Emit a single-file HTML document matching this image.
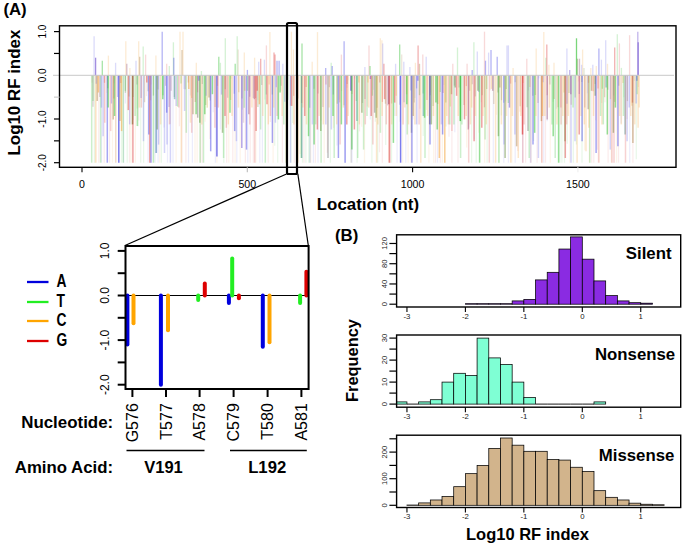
<!DOCTYPE html>
<html><head><meta charset="utf-8"><style>
html,body{margin:0;padding:0;background:#fff;}
svg{display:block;font-family:"Liberation Sans", sans-serif;}
</style></head><body>
<svg width="685" height="547" viewBox="0 0 685 547">
<text x="3.4" y="15.4" font-size="16.8" font-weight="bold" text-anchor="start">(A)</text>
<line x1="92.0" y1="75.3" x2="92.0" y2="82.8" stroke="#e04848" stroke-width="1.2" opacity="0.1"/>
<line x1="94.4" y1="75.3" x2="94.4" y2="162.7" stroke="#30c030" stroke-width="1.2" opacity="0.1"/>
<line x1="96.1" y1="75.3" x2="96.1" y2="162.7" stroke="#f5a030" stroke-width="1.2" opacity="0.1"/>
<line x1="98.8" y1="75.3" x2="98.8" y2="162.7" stroke="#e04848" stroke-width="1.2" opacity="0.1"/>
<line x1="101.5" y1="75.3" x2="101.5" y2="162.7" stroke="#5050e8" stroke-width="1.2" opacity="0.1"/>
<line x1="104.2" y1="75.3" x2="104.2" y2="162.7" stroke="#e04848" stroke-width="1.2" opacity="0.1"/>
<line x1="106.8" y1="75.3" x2="106.8" y2="93.0" stroke="#f5a030" stroke-width="1.2" opacity="0.1"/>
<line x1="109.6" y1="75.3" x2="109.6" y2="162.7" stroke="#e04848" stroke-width="1.2" opacity="0.1"/>
<line x1="112.5" y1="75.3" x2="112.5" y2="162.7" stroke="#f5a030" stroke-width="1.2" opacity="0.1"/>
<line x1="114.1" y1="75.3" x2="114.1" y2="83.3" stroke="#5050e8" stroke-width="1.2" opacity="0.1"/>
<line x1="115.8" y1="75.3" x2="115.8" y2="162.7" stroke="#5050e8" stroke-width="1.2" opacity="0.1"/>
<line x1="119.1" y1="75.3" x2="119.1" y2="76.3" stroke="#5050e8" stroke-width="1.2" opacity="0.1"/>
<line x1="121.5" y1="75.3" x2="121.5" y2="162.7" stroke="#30c030" stroke-width="1.2" opacity="0.1"/>
<line x1="123.6" y1="75.3" x2="123.6" y2="162.7" stroke="#5050e8" stroke-width="1.2" opacity="0.1"/>
<line x1="125.4" y1="75.3" x2="125.4" y2="103.4" stroke="#5050e8" stroke-width="1.2" opacity="0.1"/>
<line x1="127.2" y1="75.3" x2="127.2" y2="162.7" stroke="#30c030" stroke-width="1.2" opacity="0.1"/>
<line x1="129.5" y1="75.3" x2="129.5" y2="162.7" stroke="#e04848" stroke-width="1.2" opacity="0.1"/>
<line x1="131.0" y1="75.3" x2="131.0" y2="162.7" stroke="#f5a030" stroke-width="1.2" opacity="0.1"/>
<line x1="133.3" y1="75.3" x2="133.3" y2="120.1" stroke="#5050e8" stroke-width="1.2" opacity="0.1"/>
<line x1="135.4" y1="75.3" x2="135.4" y2="162.7" stroke="#f5a030" stroke-width="1.2" opacity="0.1"/>
<line x1="137.0" y1="75.3" x2="137.0" y2="108.4" stroke="#30c030" stroke-width="1.2" opacity="0.1"/>
<line x1="138.8" y1="75.3" x2="138.8" y2="120.6" stroke="#e04848" stroke-width="1.2" opacity="0.1"/>
<line x1="140.7" y1="75.3" x2="140.7" y2="162.7" stroke="#30c030" stroke-width="1.2" opacity="0.1"/>
<line x1="143.6" y1="75.3" x2="143.6" y2="162.7" stroke="#30c030" stroke-width="1.2" opacity="0.1"/>
<line x1="146.5" y1="75.3" x2="146.5" y2="96.1" stroke="#e04848" stroke-width="1.2" opacity="0.1"/>
<line x1="148.1" y1="75.3" x2="148.1" y2="162.7" stroke="#5050e8" stroke-width="1.2" opacity="0.1"/>
<line x1="151.1" y1="75.3" x2="151.1" y2="84.5" stroke="#e04848" stroke-width="1.2" opacity="0.1"/>
<line x1="153.1" y1="75.3" x2="153.1" y2="162.7" stroke="#30c030" stroke-width="1.2" opacity="0.1"/>
<line x1="155.1" y1="75.3" x2="155.1" y2="162.7" stroke="#5050e8" stroke-width="1.2" opacity="0.1"/>
<line x1="158.1" y1="75.3" x2="158.1" y2="162.7" stroke="#5050e8" stroke-width="1.2" opacity="0.1"/>
<line x1="159.7" y1="75.3" x2="159.7" y2="162.7" stroke="#f5a030" stroke-width="1.2" opacity="0.1"/>
<line x1="161.4" y1="75.3" x2="161.4" y2="162.7" stroke="#30c030" stroke-width="1.2" opacity="0.1"/>
<line x1="164.0" y1="75.3" x2="164.0" y2="127.4" stroke="#5050e8" stroke-width="1.2" opacity="0.1"/>
<line x1="167.5" y1="75.3" x2="167.5" y2="162.7" stroke="#5050e8" stroke-width="1.2" opacity="0.1"/>
<line x1="170.4" y1="75.3" x2="170.4" y2="123.9" stroke="#f5a030" stroke-width="1.2" opacity="0.1"/>
<line x1="173.0" y1="75.3" x2="173.0" y2="162.7" stroke="#5050e8" stroke-width="1.2" opacity="0.1"/>
<line x1="176.1" y1="75.3" x2="176.1" y2="162.7" stroke="#f5a030" stroke-width="1.2" opacity="0.1"/>
<line x1="179.4" y1="75.3" x2="179.4" y2="126.2" stroke="#e04848" stroke-width="1.2" opacity="0.1"/>
<line x1="182.0" y1="75.3" x2="182.0" y2="162.7" stroke="#e04848" stroke-width="1.2" opacity="0.1"/>
<line x1="183.7" y1="75.3" x2="183.7" y2="88.9" stroke="#5050e8" stroke-width="1.2" opacity="0.1"/>
<line x1="185.9" y1="75.3" x2="185.9" y2="162.7" stroke="#e04848" stroke-width="1.2" opacity="0.1"/>
<line x1="188.5" y1="75.3" x2="188.5" y2="162.7" stroke="#5050e8" stroke-width="1.2" opacity="0.1"/>
<line x1="190.4" y1="75.3" x2="190.4" y2="95.5" stroke="#5050e8" stroke-width="1.2" opacity="0.1"/>
<line x1="192.4" y1="75.3" x2="192.4" y2="162.7" stroke="#5050e8" stroke-width="1.2" opacity="0.1"/>
<line x1="195.0" y1="75.3" x2="195.0" y2="162.7" stroke="#f5a030" stroke-width="1.2" opacity="0.1"/>
<line x1="197.1" y1="75.3" x2="197.1" y2="162.7" stroke="#f5a030" stroke-width="1.2" opacity="0.1"/>
<line x1="200.4" y1="75.3" x2="200.4" y2="162.7" stroke="#e04848" stroke-width="1.2" opacity="0.1"/>
<line x1="202.2" y1="75.3" x2="202.2" y2="162.7" stroke="#e04848" stroke-width="1.2" opacity="0.1"/>
<line x1="205.1" y1="75.3" x2="205.1" y2="121.8" stroke="#f5a030" stroke-width="1.2" opacity="0.1"/>
<line x1="207.1" y1="75.3" x2="207.1" y2="107.7" stroke="#30c030" stroke-width="1.2" opacity="0.1"/>
<line x1="210.0" y1="75.3" x2="210.0" y2="138.9" stroke="#e04848" stroke-width="1.2" opacity="0.1"/>
<line x1="213.2" y1="75.3" x2="213.2" y2="112.3" stroke="#5050e8" stroke-width="1.2" opacity="0.1"/>
<line x1="215.4" y1="75.3" x2="215.4" y2="162.7" stroke="#5050e8" stroke-width="1.2" opacity="0.1"/>
<line x1="216.9" y1="75.3" x2="216.9" y2="162.7" stroke="#f5a030" stroke-width="1.2" opacity="0.1"/>
<line x1="220.4" y1="75.3" x2="220.4" y2="129.5" stroke="#5050e8" stroke-width="1.2" opacity="0.1"/>
<line x1="223.8" y1="75.3" x2="223.8" y2="162.7" stroke="#30c030" stroke-width="1.2" opacity="0.1"/>
<line x1="226.7" y1="75.3" x2="226.7" y2="162.7" stroke="#e04848" stroke-width="1.2" opacity="0.1"/>
<line x1="228.8" y1="75.3" x2="228.8" y2="162.7" stroke="#f5a030" stroke-width="1.2" opacity="0.1"/>
<line x1="231.0" y1="75.3" x2="231.0" y2="78.8" stroke="#30c030" stroke-width="1.2" opacity="0.1"/>
<line x1="232.8" y1="75.3" x2="232.8" y2="162.7" stroke="#e04848" stroke-width="1.2" opacity="0.1"/>
<line x1="235.1" y1="75.3" x2="235.1" y2="162.7" stroke="#f5a030" stroke-width="1.2" opacity="0.1"/>
<line x1="236.8" y1="75.3" x2="236.8" y2="162.7" stroke="#5050e8" stroke-width="1.2" opacity="0.1"/>
<line x1="240.2" y1="75.3" x2="240.2" y2="162.7" stroke="#f5a030" stroke-width="1.2" opacity="0.1"/>
<line x1="242.4" y1="75.3" x2="242.4" y2="109.8" stroke="#5050e8" stroke-width="1.2" opacity="0.1"/>
<line x1="245.4" y1="75.3" x2="245.4" y2="162.7" stroke="#e04848" stroke-width="1.2" opacity="0.1"/>
<line x1="247.8" y1="75.3" x2="247.8" y2="162.7" stroke="#5050e8" stroke-width="1.2" opacity="0.1"/>
<line x1="250.2" y1="75.3" x2="250.2" y2="162.7" stroke="#e04848" stroke-width="1.2" opacity="0.1"/>
<line x1="253.3" y1="75.3" x2="253.3" y2="162.7" stroke="#e04848" stroke-width="1.2" opacity="0.1"/>
<line x1="255.8" y1="75.3" x2="255.8" y2="162.7" stroke="#f5a030" stroke-width="1.2" opacity="0.1"/>
<line x1="257.9" y1="75.3" x2="257.9" y2="100.2" stroke="#30c030" stroke-width="1.2" opacity="0.1"/>
<line x1="259.8" y1="75.3" x2="259.8" y2="162.7" stroke="#5050e8" stroke-width="1.2" opacity="0.1"/>
<line x1="262.4" y1="75.3" x2="262.4" y2="162.7" stroke="#5050e8" stroke-width="1.2" opacity="0.1"/>
<line x1="264.9" y1="75.3" x2="264.9" y2="99.5" stroke="#30c030" stroke-width="1.2" opacity="0.1"/>
<line x1="268.2" y1="75.3" x2="268.2" y2="162.7" stroke="#e04848" stroke-width="1.2" opacity="0.1"/>
<line x1="270.4" y1="75.3" x2="270.4" y2="122.0" stroke="#e04848" stroke-width="1.2" opacity="0.1"/>
<line x1="273.1" y1="75.3" x2="273.1" y2="162.7" stroke="#f5a030" stroke-width="1.2" opacity="0.1"/>
<line x1="274.7" y1="75.3" x2="274.7" y2="145.8" stroke="#30c030" stroke-width="1.2" opacity="0.1"/>
<line x1="277.7" y1="75.3" x2="277.7" y2="162.7" stroke="#30c030" stroke-width="1.2" opacity="0.1"/>
<line x1="280.9" y1="75.3" x2="280.9" y2="91.0" stroke="#f5a030" stroke-width="1.2" opacity="0.1"/>
<line x1="282.4" y1="75.3" x2="282.4" y2="162.7" stroke="#e04848" stroke-width="1.2" opacity="0.1"/>
<line x1="285.6" y1="75.3" x2="285.6" y2="162.7" stroke="#30c030" stroke-width="1.2" opacity="0.1"/>
<line x1="287.6" y1="75.3" x2="287.6" y2="95.6" stroke="#f5a030" stroke-width="1.2" opacity="0.1"/>
<line x1="290.9" y1="75.3" x2="290.9" y2="162.7" stroke="#30c030" stroke-width="1.2" opacity="0.1"/>
<line x1="292.6" y1="75.3" x2="292.6" y2="123.1" stroke="#30c030" stroke-width="1.2" opacity="0.1"/>
<line x1="294.3" y1="75.3" x2="294.3" y2="162.7" stroke="#e04848" stroke-width="1.2" opacity="0.1"/>
<line x1="296.6" y1="75.3" x2="296.6" y2="155.6" stroke="#5050e8" stroke-width="1.2" opacity="0.1"/>
<line x1="300.0" y1="75.3" x2="300.0" y2="154.1" stroke="#f5a030" stroke-width="1.2" opacity="0.1"/>
<line x1="302.5" y1="75.3" x2="302.5" y2="162.7" stroke="#30c030" stroke-width="1.2" opacity="0.1"/>
<line x1="304.0" y1="75.3" x2="304.0" y2="162.7" stroke="#e04848" stroke-width="1.2" opacity="0.1"/>
<line x1="305.9" y1="75.3" x2="305.9" y2="162.7" stroke="#30c030" stroke-width="1.2" opacity="0.1"/>
<line x1="308.6" y1="75.3" x2="308.6" y2="162.7" stroke="#30c030" stroke-width="1.2" opacity="0.1"/>
<line x1="310.7" y1="75.3" x2="310.7" y2="162.7" stroke="#e04848" stroke-width="1.2" opacity="0.1"/>
<line x1="313.4" y1="75.3" x2="313.4" y2="162.7" stroke="#5050e8" stroke-width="1.2" opacity="0.1"/>
<line x1="315.3" y1="75.3" x2="315.3" y2="162.7" stroke="#e04848" stroke-width="1.2" opacity="0.1"/>
<line x1="318.0" y1="75.3" x2="318.0" y2="162.7" stroke="#5050e8" stroke-width="1.2" opacity="0.1"/>
<line x1="321.1" y1="75.3" x2="321.1" y2="120.4" stroke="#e04848" stroke-width="1.2" opacity="0.1"/>
<line x1="324.2" y1="75.3" x2="324.2" y2="162.7" stroke="#f5a030" stroke-width="1.2" opacity="0.1"/>
<line x1="327.3" y1="75.3" x2="327.3" y2="152.8" stroke="#e04848" stroke-width="1.2" opacity="0.1"/>
<line x1="330.4" y1="75.3" x2="330.4" y2="162.7" stroke="#30c030" stroke-width="1.2" opacity="0.1"/>
<line x1="333.5" y1="75.3" x2="333.5" y2="127.9" stroke="#f5a030" stroke-width="1.2" opacity="0.1"/>
<line x1="336.9" y1="75.3" x2="336.9" y2="145.5" stroke="#5050e8" stroke-width="1.2" opacity="0.1"/>
<line x1="339.1" y1="75.3" x2="339.1" y2="99.8" stroke="#e04848" stroke-width="1.2" opacity="0.1"/>
<line x1="341.6" y1="75.3" x2="341.6" y2="91.0" stroke="#e04848" stroke-width="1.2" opacity="0.1"/>
<line x1="345.1" y1="75.3" x2="345.1" y2="162.7" stroke="#5050e8" stroke-width="1.2" opacity="0.1"/>
<line x1="347.1" y1="75.3" x2="347.1" y2="87.8" stroke="#e04848" stroke-width="1.2" opacity="0.1"/>
<line x1="348.6" y1="75.3" x2="348.6" y2="80.2" stroke="#f5a030" stroke-width="1.2" opacity="0.1"/>
<line x1="352.1" y1="75.3" x2="352.1" y2="162.7" stroke="#5050e8" stroke-width="1.2" opacity="0.1"/>
<line x1="354.7" y1="75.3" x2="354.7" y2="78.5" stroke="#5050e8" stroke-width="1.2" opacity="0.1"/>
<line x1="357.1" y1="75.3" x2="357.1" y2="162.7" stroke="#30c030" stroke-width="1.2" opacity="0.1"/>
<line x1="359.5" y1="75.3" x2="359.5" y2="131.4" stroke="#e04848" stroke-width="1.2" opacity="0.1"/>
<line x1="361.7" y1="75.3" x2="361.7" y2="126.8" stroke="#f5a030" stroke-width="1.2" opacity="0.1"/>
<line x1="364.5" y1="75.3" x2="364.5" y2="162.7" stroke="#f5a030" stroke-width="1.2" opacity="0.1"/>
<line x1="367.3" y1="75.3" x2="367.3" y2="106.6" stroke="#e04848" stroke-width="1.2" opacity="0.1"/>
<line x1="370.3" y1="75.3" x2="370.3" y2="119.5" stroke="#5050e8" stroke-width="1.2" opacity="0.1"/>
<line x1="371.9" y1="75.3" x2="371.9" y2="162.7" stroke="#30c030" stroke-width="1.2" opacity="0.1"/>
<line x1="373.5" y1="75.3" x2="373.5" y2="89.8" stroke="#5050e8" stroke-width="1.2" opacity="0.1"/>
<line x1="375.3" y1="75.3" x2="375.3" y2="121.7" stroke="#30c030" stroke-width="1.2" opacity="0.1"/>
<line x1="377.7" y1="75.3" x2="377.7" y2="162.7" stroke="#30c030" stroke-width="1.2" opacity="0.1"/>
<line x1="379.5" y1="75.3" x2="379.5" y2="152.3" stroke="#e04848" stroke-width="1.2" opacity="0.1"/>
<line x1="382.3" y1="75.3" x2="382.3" y2="162.7" stroke="#e04848" stroke-width="1.2" opacity="0.1"/>
<line x1="385.7" y1="75.3" x2="385.7" y2="145.0" stroke="#30c030" stroke-width="1.2" opacity="0.1"/>
<line x1="388.7" y1="75.3" x2="388.7" y2="162.7" stroke="#f5a030" stroke-width="1.2" opacity="0.1"/>
<line x1="391.5" y1="75.3" x2="391.5" y2="162.7" stroke="#30c030" stroke-width="1.2" opacity="0.1"/>
<line x1="394.8" y1="75.3" x2="394.8" y2="116.0" stroke="#5050e8" stroke-width="1.2" opacity="0.1"/>
<line x1="397.1" y1="75.3" x2="397.1" y2="162.7" stroke="#5050e8" stroke-width="1.2" opacity="0.1"/>
<line x1="400.1" y1="75.3" x2="400.1" y2="121.8" stroke="#30c030" stroke-width="1.2" opacity="0.1"/>
<line x1="402.6" y1="75.3" x2="402.6" y2="162.7" stroke="#f5a030" stroke-width="1.2" opacity="0.1"/>
<line x1="405.8" y1="75.3" x2="405.8" y2="162.7" stroke="#5050e8" stroke-width="1.2" opacity="0.1"/>
<line x1="408.1" y1="75.3" x2="408.1" y2="162.7" stroke="#f5a030" stroke-width="1.2" opacity="0.1"/>
<line x1="411.0" y1="75.3" x2="411.0" y2="162.7" stroke="#f5a030" stroke-width="1.2" opacity="0.1"/>
<line x1="413.3" y1="75.3" x2="413.3" y2="119.6" stroke="#f5a030" stroke-width="1.2" opacity="0.1"/>
<line x1="415.0" y1="75.3" x2="415.0" y2="98.0" stroke="#5050e8" stroke-width="1.2" opacity="0.1"/>
<line x1="417.1" y1="75.3" x2="417.1" y2="162.7" stroke="#5050e8" stroke-width="1.2" opacity="0.1"/>
<line x1="420.0" y1="75.3" x2="420.0" y2="108.8" stroke="#e04848" stroke-width="1.2" opacity="0.1"/>
<line x1="423.2" y1="75.3" x2="423.2" y2="136.1" stroke="#30c030" stroke-width="1.2" opacity="0.1"/>
<line x1="426.5" y1="75.3" x2="426.5" y2="110.0" stroke="#f5a030" stroke-width="1.2" opacity="0.1"/>
<line x1="428.9" y1="75.3" x2="428.9" y2="162.7" stroke="#f5a030" stroke-width="1.2" opacity="0.1"/>
<line x1="430.6" y1="75.3" x2="430.6" y2="92.2" stroke="#f5a030" stroke-width="1.2" opacity="0.1"/>
<line x1="433.7" y1="75.3" x2="433.7" y2="162.7" stroke="#f5a030" stroke-width="1.2" opacity="0.1"/>
<line x1="435.5" y1="75.3" x2="435.5" y2="162.7" stroke="#e04848" stroke-width="1.2" opacity="0.1"/>
<line x1="437.5" y1="75.3" x2="437.5" y2="162.7" stroke="#5050e8" stroke-width="1.2" opacity="0.1"/>
<line x1="440.3" y1="75.3" x2="440.3" y2="162.7" stroke="#e04848" stroke-width="1.2" opacity="0.1"/>
<line x1="442.4" y1="75.3" x2="442.4" y2="162.7" stroke="#f5a030" stroke-width="1.2" opacity="0.1"/>
<line x1="444.0" y1="75.3" x2="444.0" y2="84.9" stroke="#30c030" stroke-width="1.2" opacity="0.1"/>
<line x1="446.0" y1="75.3" x2="446.0" y2="126.4" stroke="#30c030" stroke-width="1.2" opacity="0.1"/>
<line x1="449.0" y1="75.3" x2="449.0" y2="136.7" stroke="#e04848" stroke-width="1.2" opacity="0.1"/>
<line x1="451.9" y1="75.3" x2="451.9" y2="162.7" stroke="#e04848" stroke-width="1.2" opacity="0.1"/>
<line x1="454.8" y1="75.3" x2="454.8" y2="132.2" stroke="#5050e8" stroke-width="1.2" opacity="0.1"/>
<line x1="458.0" y1="75.3" x2="458.0" y2="162.7" stroke="#e04848" stroke-width="1.2" opacity="0.1"/>
<line x1="460.5" y1="75.3" x2="460.5" y2="105.6" stroke="#5050e8" stroke-width="1.2" opacity="0.1"/>
<line x1="463.9" y1="75.3" x2="463.9" y2="75.8" stroke="#30c030" stroke-width="1.2" opacity="0.1"/>
<line x1="466.7" y1="75.3" x2="466.7" y2="147.5" stroke="#f5a030" stroke-width="1.2" opacity="0.1"/>
<line x1="468.8" y1="75.3" x2="468.8" y2="127.7" stroke="#5050e8" stroke-width="1.2" opacity="0.1"/>
<line x1="471.6" y1="75.3" x2="471.6" y2="162.7" stroke="#30c030" stroke-width="1.2" opacity="0.1"/>
<line x1="474.2" y1="75.3" x2="474.2" y2="139.5" stroke="#5050e8" stroke-width="1.2" opacity="0.1"/>
<line x1="476.2" y1="75.3" x2="476.2" y2="162.7" stroke="#30c030" stroke-width="1.2" opacity="0.1"/>
<line x1="478.6" y1="75.3" x2="478.6" y2="132.8" stroke="#f5a030" stroke-width="1.2" opacity="0.1"/>
<line x1="481.3" y1="75.3" x2="481.3" y2="102.3" stroke="#e04848" stroke-width="1.2" opacity="0.1"/>
<line x1="484.6" y1="75.3" x2="484.6" y2="162.7" stroke="#f5a030" stroke-width="1.2" opacity="0.1"/>
<line x1="487.1" y1="75.3" x2="487.1" y2="162.7" stroke="#30c030" stroke-width="1.2" opacity="0.1"/>
<line x1="490.2" y1="75.3" x2="490.2" y2="90.2" stroke="#e04848" stroke-width="1.2" opacity="0.1"/>
<line x1="493.3" y1="75.3" x2="493.3" y2="162.7" stroke="#5050e8" stroke-width="1.2" opacity="0.1"/>
<line x1="496.5" y1="75.3" x2="496.5" y2="114.8" stroke="#f5a030" stroke-width="1.2" opacity="0.1"/>
<line x1="499.2" y1="75.3" x2="499.2" y2="162.7" stroke="#30c030" stroke-width="1.2" opacity="0.1"/>
<line x1="501.3" y1="75.3" x2="501.3" y2="115.4" stroke="#30c030" stroke-width="1.2" opacity="0.1"/>
<line x1="503.8" y1="75.3" x2="503.8" y2="162.7" stroke="#5050e8" stroke-width="1.2" opacity="0.1"/>
<line x1="505.7" y1="75.3" x2="505.7" y2="101.6" stroke="#30c030" stroke-width="1.2" opacity="0.1"/>
<line x1="508.4" y1="75.3" x2="508.4" y2="162.7" stroke="#5050e8" stroke-width="1.2" opacity="0.1"/>
<line x1="511.8" y1="75.3" x2="511.8" y2="162.7" stroke="#f5a030" stroke-width="1.2" opacity="0.1"/>
<line x1="515.2" y1="75.3" x2="515.2" y2="162.7" stroke="#5050e8" stroke-width="1.2" opacity="0.1"/>
<line x1="517.8" y1="75.3" x2="517.8" y2="151.0" stroke="#e04848" stroke-width="1.2" opacity="0.1"/>
<line x1="519.9" y1="75.3" x2="519.9" y2="111.7" stroke="#e04848" stroke-width="1.2" opacity="0.1"/>
<line x1="522.7" y1="75.3" x2="522.7" y2="162.7" stroke="#5050e8" stroke-width="1.2" opacity="0.1"/>
<line x1="525.6" y1="75.3" x2="525.6" y2="162.7" stroke="#e04848" stroke-width="1.2" opacity="0.1"/>
<line x1="528.4" y1="75.3" x2="528.4" y2="90.4" stroke="#5050e8" stroke-width="1.2" opacity="0.1"/>
<line x1="530.3" y1="75.3" x2="530.3" y2="162.7" stroke="#5050e8" stroke-width="1.2" opacity="0.1"/>
<line x1="533.6" y1="75.3" x2="533.6" y2="141.1" stroke="#30c030" stroke-width="1.2" opacity="0.1"/>
<line x1="537.1" y1="75.3" x2="537.1" y2="162.7" stroke="#e04848" stroke-width="1.2" opacity="0.1"/>
<line x1="539.0" y1="75.3" x2="539.0" y2="78.2" stroke="#5050e8" stroke-width="1.2" opacity="0.1"/>
<line x1="541.9" y1="75.3" x2="541.9" y2="162.7" stroke="#f5a030" stroke-width="1.2" opacity="0.1"/>
<line x1="543.7" y1="75.3" x2="543.7" y2="162.7" stroke="#5050e8" stroke-width="1.2" opacity="0.1"/>
<line x1="545.5" y1="75.3" x2="545.5" y2="162.7" stroke="#e04848" stroke-width="1.2" opacity="0.1"/>
<line x1="547.2" y1="75.3" x2="547.2" y2="121.2" stroke="#5050e8" stroke-width="1.2" opacity="0.1"/>
<line x1="550.3" y1="75.3" x2="550.3" y2="162.7" stroke="#f5a030" stroke-width="1.2" opacity="0.1"/>
<line x1="553.1" y1="75.3" x2="553.1" y2="101.7" stroke="#30c030" stroke-width="1.2" opacity="0.1"/>
<line x1="556.4" y1="75.3" x2="556.4" y2="108.7" stroke="#5050e8" stroke-width="1.2" opacity="0.1"/>
<line x1="559.9" y1="75.3" x2="559.9" y2="162.7" stroke="#30c030" stroke-width="1.2" opacity="0.1"/>
<line x1="561.9" y1="75.3" x2="561.9" y2="162.7" stroke="#30c030" stroke-width="1.2" opacity="0.1"/>
<line x1="564.5" y1="75.3" x2="564.5" y2="162.7" stroke="#30c030" stroke-width="1.2" opacity="0.1"/>
<line x1="567.2" y1="75.3" x2="567.2" y2="143.8" stroke="#30c030" stroke-width="1.2" opacity="0.1"/>
<line x1="569.8" y1="75.3" x2="569.8" y2="162.7" stroke="#f5a030" stroke-width="1.2" opacity="0.1"/>
<line x1="573.3" y1="75.3" x2="573.3" y2="162.7" stroke="#30c030" stroke-width="1.2" opacity="0.1"/>
<line x1="576.4" y1="75.3" x2="576.4" y2="144.5" stroke="#30c030" stroke-width="1.2" opacity="0.1"/>
<line x1="578.5" y1="75.3" x2="578.5" y2="81.4" stroke="#f5a030" stroke-width="1.2" opacity="0.1"/>
<line x1="582.0" y1="75.3" x2="582.0" y2="162.7" stroke="#30c030" stroke-width="1.2" opacity="0.1"/>
<line x1="584.6" y1="75.3" x2="584.6" y2="150.2" stroke="#f5a030" stroke-width="1.2" opacity="0.1"/>
<line x1="587.3" y1="75.3" x2="587.3" y2="93.3" stroke="#5050e8" stroke-width="1.2" opacity="0.1"/>
<line x1="589.3" y1="75.3" x2="589.3" y2="162.7" stroke="#f5a030" stroke-width="1.2" opacity="0.1"/>
<line x1="591.7" y1="75.3" x2="591.7" y2="162.7" stroke="#e04848" stroke-width="1.2" opacity="0.1"/>
<line x1="593.8" y1="75.3" x2="593.8" y2="162.7" stroke="#e04848" stroke-width="1.2" opacity="0.1"/>
<line x1="595.6" y1="75.3" x2="595.6" y2="120.2" stroke="#e04848" stroke-width="1.2" opacity="0.1"/>
<line x1="597.4" y1="75.3" x2="597.4" y2="149.8" stroke="#e04848" stroke-width="1.2" opacity="0.1"/>
<line x1="599.3" y1="75.3" x2="599.3" y2="162.7" stroke="#f5a030" stroke-width="1.2" opacity="0.1"/>
<line x1="601.7" y1="75.3" x2="601.7" y2="103.1" stroke="#e04848" stroke-width="1.2" opacity="0.1"/>
<line x1="604.9" y1="75.3" x2="604.9" y2="102.3" stroke="#e04848" stroke-width="1.2" opacity="0.1"/>
<line x1="608.1" y1="75.3" x2="608.1" y2="162.7" stroke="#e04848" stroke-width="1.2" opacity="0.1"/>
<line x1="611.4" y1="75.3" x2="611.4" y2="162.7" stroke="#f5a030" stroke-width="1.2" opacity="0.1"/>
<line x1="613.6" y1="75.3" x2="613.6" y2="95.4" stroke="#5050e8" stroke-width="1.2" opacity="0.1"/>
<line x1="616.5" y1="75.3" x2="616.5" y2="162.7" stroke="#f5a030" stroke-width="1.2" opacity="0.1"/>
<line x1="618.5" y1="75.3" x2="618.5" y2="162.7" stroke="#e04848" stroke-width="1.2" opacity="0.1"/>
<line x1="621.0" y1="75.3" x2="621.0" y2="123.6" stroke="#5050e8" stroke-width="1.2" opacity="0.1"/>
<line x1="623.8" y1="75.3" x2="623.8" y2="97.3" stroke="#30c030" stroke-width="1.2" opacity="0.1"/>
<line x1="627.0" y1="75.3" x2="627.0" y2="119.1" stroke="#e04848" stroke-width="1.2" opacity="0.1"/>
<line x1="629.7" y1="75.3" x2="629.7" y2="162.7" stroke="#5050e8" stroke-width="1.2" opacity="0.1"/>
<line x1="632.9" y1="75.3" x2="632.9" y2="162.7" stroke="#e04848" stroke-width="1.2" opacity="0.1"/>
<line x1="634.5" y1="75.3" x2="634.5" y2="80.8" stroke="#30c030" stroke-width="1.2" opacity="0.1"/>
<line x1="636.3" y1="75.3" x2="636.3" y2="159.3" stroke="#30c030" stroke-width="1.2" opacity="0.1"/>
<line x1="638.4" y1="75.3" x2="638.4" y2="87.0" stroke="#e04848" stroke-width="1.2" opacity="0.1"/>
<line x1="93.0" y1="75.3" x2="93.0" y2="106.7" stroke="#a06488" stroke-width="1.3" opacity="0.3"/>
<line x1="96.2" y1="75.3" x2="96.2" y2="83.8" stroke="#5050e8" stroke-width="1.3" opacity="0.3"/>
<line x1="99.8" y1="75.3" x2="99.8" y2="97.1" stroke="#a06488" stroke-width="1.3" opacity="0.3"/>
<line x1="104.5" y1="75.3" x2="104.5" y2="82.8" stroke="#e04848" stroke-width="1.3" opacity="0.3"/>
<line x1="107.8" y1="75.3" x2="107.8" y2="88.2" stroke="#30c030" stroke-width="1.3" opacity="0.3"/>
<line x1="111.5" y1="75.3" x2="111.5" y2="103.5" stroke="#5050e8" stroke-width="1.3" opacity="0.3"/>
<line x1="113.8" y1="75.3" x2="113.8" y2="98.4" stroke="#e04848" stroke-width="1.3" opacity="0.3"/>
<line x1="117.6" y1="75.3" x2="117.6" y2="97.0" stroke="#5050e8" stroke-width="1.3" opacity="0.3"/>
<line x1="120.8" y1="75.3" x2="120.8" y2="83.1" stroke="#e04848" stroke-width="1.3" opacity="0.3"/>
<line x1="125.4" y1="75.3" x2="125.4" y2="92.8" stroke="#6a9040" stroke-width="1.3" opacity="0.3"/>
<line x1="129.0" y1="75.3" x2="129.0" y2="96.5" stroke="#6a9040" stroke-width="1.3" opacity="0.3"/>
<line x1="133.0" y1="75.3" x2="133.0" y2="97.1" stroke="#30c030" stroke-width="1.3" opacity="0.3"/>
<line x1="136.9" y1="75.3" x2="136.9" y2="84.4" stroke="#a06488" stroke-width="1.3" opacity="0.3"/>
<line x1="141.1" y1="75.3" x2="141.1" y2="98.1" stroke="#5050e8" stroke-width="1.3" opacity="0.3"/>
<line x1="144.6" y1="75.3" x2="144.6" y2="102.2" stroke="#b08850" stroke-width="1.3" opacity="0.3"/>
<line x1="148.0" y1="75.3" x2="148.0" y2="91.3" stroke="#808080" stroke-width="1.3" opacity="0.3"/>
<line x1="150.7" y1="75.3" x2="150.7" y2="100.2" stroke="#f5a030" stroke-width="1.3" opacity="0.3"/>
<line x1="153.4" y1="75.3" x2="153.4" y2="95.6" stroke="#6a9040" stroke-width="1.3" opacity="0.3"/>
<line x1="158.1" y1="75.3" x2="158.1" y2="89.4" stroke="#808080" stroke-width="1.3" opacity="0.3"/>
<line x1="163.0" y1="75.3" x2="163.0" y2="95.3" stroke="#30c030" stroke-width="1.3" opacity="0.3"/>
<line x1="165.5" y1="75.3" x2="165.5" y2="85.8" stroke="#a06488" stroke-width="1.3" opacity="0.3"/>
<line x1="169.0" y1="75.3" x2="169.0" y2="107.1" stroke="#5050e8" stroke-width="1.3" opacity="0.3"/>
<line x1="171.2" y1="75.3" x2="171.2" y2="90.8" stroke="#a06488" stroke-width="1.3" opacity="0.3"/>
<line x1="174.3" y1="75.3" x2="174.3" y2="97.1" stroke="#808080" stroke-width="1.3" opacity="0.3"/>
<line x1="177.6" y1="75.3" x2="177.6" y2="106.6" stroke="#30c030" stroke-width="1.3" opacity="0.3"/>
<line x1="181.0" y1="75.3" x2="181.0" y2="83.4" stroke="#30c030" stroke-width="1.3" opacity="0.3"/>
<line x1="185.2" y1="75.3" x2="185.2" y2="89.3" stroke="#808080" stroke-width="1.3" opacity="0.3"/>
<line x1="188.3" y1="75.3" x2="188.3" y2="82.4" stroke="#a06488" stroke-width="1.3" opacity="0.3"/>
<line x1="191.7" y1="75.3" x2="191.7" y2="97.9" stroke="#f5a030" stroke-width="1.3" opacity="0.3"/>
<line x1="195.2" y1="75.3" x2="195.2" y2="102.0" stroke="#e04848" stroke-width="1.3" opacity="0.3"/>
<line x1="197.6" y1="75.3" x2="197.6" y2="92.3" stroke="#e04848" stroke-width="1.3" opacity="0.3"/>
<line x1="202.3" y1="75.3" x2="202.3" y2="84.0" stroke="#808080" stroke-width="1.3" opacity="0.3"/>
<line x1="205.7" y1="75.3" x2="205.7" y2="105.0" stroke="#6a9040" stroke-width="1.3" opacity="0.3"/>
<line x1="210.1" y1="75.3" x2="210.1" y2="100.4" stroke="#6a9040" stroke-width="1.3" opacity="0.3"/>
<line x1="215.1" y1="75.3" x2="215.1" y2="107.0" stroke="#b08850" stroke-width="1.3" opacity="0.3"/>
<line x1="217.5" y1="75.3" x2="217.5" y2="85.8" stroke="#f5a030" stroke-width="1.3" opacity="0.3"/>
<line x1="221.5" y1="75.3" x2="221.5" y2="94.6" stroke="#5050e8" stroke-width="1.3" opacity="0.3"/>
<line x1="225.3" y1="75.3" x2="225.3" y2="89.2" stroke="#6a9040" stroke-width="1.3" opacity="0.3"/>
<line x1="227.7" y1="75.3" x2="227.7" y2="97.8" stroke="#a06488" stroke-width="1.3" opacity="0.3"/>
<line x1="230.7" y1="75.3" x2="230.7" y2="100.0" stroke="#f5a030" stroke-width="1.3" opacity="0.3"/>
<line x1="234.2" y1="75.3" x2="234.2" y2="93.8" stroke="#5050e8" stroke-width="1.3" opacity="0.3"/>
<line x1="238.8" y1="75.3" x2="238.8" y2="92.3" stroke="#b08850" stroke-width="1.3" opacity="0.3"/>
<line x1="242.0" y1="75.3" x2="242.0" y2="98.5" stroke="#808080" stroke-width="1.3" opacity="0.3"/>
<line x1="244.2" y1="75.3" x2="244.2" y2="107.7" stroke="#30c030" stroke-width="1.3" opacity="0.3"/>
<line x1="247.5" y1="75.3" x2="247.5" y2="90.8" stroke="#30c030" stroke-width="1.3" opacity="0.3"/>
<line x1="249.7" y1="75.3" x2="249.7" y2="96.7" stroke="#5050e8" stroke-width="1.3" opacity="0.3"/>
<line x1="253.3" y1="75.3" x2="253.3" y2="97.9" stroke="#a06488" stroke-width="1.3" opacity="0.3"/>
<line x1="255.5" y1="75.3" x2="255.5" y2="98.0" stroke="#e04848" stroke-width="1.3" opacity="0.3"/>
<line x1="257.9" y1="75.3" x2="257.9" y2="106.9" stroke="#6a9040" stroke-width="1.3" opacity="0.3"/>
<line x1="261.7" y1="75.3" x2="261.7" y2="85.1" stroke="#808080" stroke-width="1.3" opacity="0.3"/>
<line x1="266.3" y1="75.3" x2="266.3" y2="94.5" stroke="#808080" stroke-width="1.3" opacity="0.3"/>
<line x1="269.2" y1="75.3" x2="269.2" y2="84.5" stroke="#f5a030" stroke-width="1.3" opacity="0.3"/>
<line x1="272.3" y1="75.3" x2="272.3" y2="94.4" stroke="#6a9040" stroke-width="1.3" opacity="0.3"/>
<line x1="276.3" y1="75.3" x2="276.3" y2="87.2" stroke="#5050e8" stroke-width="1.3" opacity="0.3"/>
<line x1="281.2" y1="75.3" x2="281.2" y2="85.7" stroke="#a06488" stroke-width="1.3" opacity="0.3"/>
<line x1="284.8" y1="75.3" x2="284.8" y2="101.7" stroke="#5050e8" stroke-width="1.3" opacity="0.3"/>
<line x1="287.7" y1="75.3" x2="287.7" y2="100.1" stroke="#30c030" stroke-width="1.3" opacity="0.3"/>
<line x1="290.5" y1="75.3" x2="290.5" y2="105.7" stroke="#a06488" stroke-width="1.3" opacity="0.3"/>
<line x1="293.6" y1="75.3" x2="293.6" y2="95.8" stroke="#e04848" stroke-width="1.3" opacity="0.3"/>
<line x1="297.9" y1="75.3" x2="297.9" y2="98.5" stroke="#a06488" stroke-width="1.3" opacity="0.3"/>
<line x1="301.7" y1="75.3" x2="301.7" y2="103.0" stroke="#e04848" stroke-width="1.3" opacity="0.3"/>
<line x1="306.2" y1="75.3" x2="306.2" y2="87.1" stroke="#e04848" stroke-width="1.3" opacity="0.3"/>
<line x1="309.7" y1="75.3" x2="309.7" y2="107.8" stroke="#5050e8" stroke-width="1.3" opacity="0.3"/>
<line x1="314.0" y1="75.3" x2="314.0" y2="88.7" stroke="#808080" stroke-width="1.3" opacity="0.3"/>
<line x1="318.1" y1="75.3" x2="318.1" y2="93.6" stroke="#a06488" stroke-width="1.3" opacity="0.3"/>
<line x1="322.9" y1="75.3" x2="322.9" y2="106.9" stroke="#a06488" stroke-width="1.3" opacity="0.3"/>
<line x1="326.0" y1="75.3" x2="326.0" y2="84.5" stroke="#e04848" stroke-width="1.3" opacity="0.3"/>
<line x1="329.4" y1="75.3" x2="329.4" y2="87.2" stroke="#a06488" stroke-width="1.3" opacity="0.3"/>
<line x1="333.3" y1="75.3" x2="333.3" y2="94.4" stroke="#5050e8" stroke-width="1.3" opacity="0.3"/>
<line x1="337.3" y1="75.3" x2="337.3" y2="103.7" stroke="#30c030" stroke-width="1.3" opacity="0.3"/>
<line x1="339.6" y1="75.3" x2="339.6" y2="102.4" stroke="#b08850" stroke-width="1.3" opacity="0.3"/>
<line x1="343.9" y1="75.3" x2="343.9" y2="105.2" stroke="#808080" stroke-width="1.3" opacity="0.3"/>
<line x1="347.2" y1="75.3" x2="347.2" y2="84.1" stroke="#a06488" stroke-width="1.3" opacity="0.3"/>
<line x1="352.0" y1="75.3" x2="352.0" y2="94.0" stroke="#b08850" stroke-width="1.3" opacity="0.3"/>
<line x1="356.3" y1="75.3" x2="356.3" y2="100.9" stroke="#30c030" stroke-width="1.3" opacity="0.3"/>
<line x1="358.8" y1="75.3" x2="358.8" y2="82.6" stroke="#f5a030" stroke-width="1.3" opacity="0.3"/>
<line x1="362.5" y1="75.3" x2="362.5" y2="103.0" stroke="#808080" stroke-width="1.3" opacity="0.3"/>
<line x1="365.0" y1="75.3" x2="365.0" y2="99.1" stroke="#808080" stroke-width="1.3" opacity="0.3"/>
<line x1="368.0" y1="75.3" x2="368.0" y2="82.4" stroke="#f5a030" stroke-width="1.3" opacity="0.3"/>
<line x1="372.4" y1="75.3" x2="372.4" y2="95.7" stroke="#30c030" stroke-width="1.3" opacity="0.3"/>
<line x1="377.2" y1="75.3" x2="377.2" y2="107.7" stroke="#b08850" stroke-width="1.3" opacity="0.3"/>
<line x1="379.8" y1="75.3" x2="379.8" y2="82.6" stroke="#e04848" stroke-width="1.3" opacity="0.3"/>
<line x1="382.4" y1="75.3" x2="382.4" y2="101.9" stroke="#e04848" stroke-width="1.3" opacity="0.3"/>
<line x1="385.4" y1="75.3" x2="385.4" y2="103.7" stroke="#b08850" stroke-width="1.3" opacity="0.3"/>
<line x1="387.6" y1="75.3" x2="387.6" y2="105.4" stroke="#a06488" stroke-width="1.3" opacity="0.3"/>
<line x1="391.6" y1="75.3" x2="391.6" y2="103.5" stroke="#b08850" stroke-width="1.3" opacity="0.3"/>
<line x1="396.2" y1="75.3" x2="396.2" y2="95.8" stroke="#f5a030" stroke-width="1.3" opacity="0.3"/>
<line x1="399.8" y1="75.3" x2="399.8" y2="104.7" stroke="#5050e8" stroke-width="1.3" opacity="0.3"/>
<line x1="404.1" y1="75.3" x2="404.1" y2="102.2" stroke="#5050e8" stroke-width="1.3" opacity="0.3"/>
<line x1="406.6" y1="75.3" x2="406.6" y2="94.3" stroke="#f5a030" stroke-width="1.3" opacity="0.3"/>
<line x1="410.8" y1="75.3" x2="410.8" y2="90.4" stroke="#5050e8" stroke-width="1.3" opacity="0.3"/>
<line x1="414.3" y1="75.3" x2="414.3" y2="102.4" stroke="#808080" stroke-width="1.3" opacity="0.3"/>
<line x1="416.6" y1="75.3" x2="416.6" y2="88.4" stroke="#5050e8" stroke-width="1.3" opacity="0.3"/>
<line x1="419.5" y1="75.3" x2="419.5" y2="95.2" stroke="#30c030" stroke-width="1.3" opacity="0.3"/>
<line x1="423.1" y1="75.3" x2="423.1" y2="93.5" stroke="#30c030" stroke-width="1.3" opacity="0.3"/>
<line x1="427.0" y1="75.3" x2="427.0" y2="100.0" stroke="#e04848" stroke-width="1.3" opacity="0.3"/>
<line x1="430.3" y1="75.3" x2="430.3" y2="95.2" stroke="#808080" stroke-width="1.3" opacity="0.3"/>
<line x1="433.1" y1="75.3" x2="433.1" y2="106.1" stroke="#6a9040" stroke-width="1.3" opacity="0.3"/>
<line x1="437.8" y1="75.3" x2="437.8" y2="103.9" stroke="#e04848" stroke-width="1.3" opacity="0.3"/>
<line x1="440.2" y1="75.3" x2="440.2" y2="92.1" stroke="#30c030" stroke-width="1.3" opacity="0.3"/>
<line x1="443.1" y1="75.3" x2="443.1" y2="93.1" stroke="#e04848" stroke-width="1.3" opacity="0.3"/>
<line x1="445.8" y1="75.3" x2="445.8" y2="102.4" stroke="#6a9040" stroke-width="1.3" opacity="0.3"/>
<line x1="450.4" y1="75.3" x2="450.4" y2="106.5" stroke="#f5a030" stroke-width="1.3" opacity="0.3"/>
<line x1="454.4" y1="75.3" x2="454.4" y2="85.6" stroke="#a06488" stroke-width="1.3" opacity="0.3"/>
<line x1="459.0" y1="75.3" x2="459.0" y2="87.6" stroke="#808080" stroke-width="1.3" opacity="0.3"/>
<line x1="463.9" y1="75.3" x2="463.9" y2="105.1" stroke="#b08850" stroke-width="1.3" opacity="0.3"/>
<line x1="466.4" y1="75.3" x2="466.4" y2="86.1" stroke="#e04848" stroke-width="1.3" opacity="0.3"/>
<line x1="469.7" y1="75.3" x2="469.7" y2="90.7" stroke="#b08850" stroke-width="1.3" opacity="0.3"/>
<line x1="472.3" y1="75.3" x2="472.3" y2="84.3" stroke="#a06488" stroke-width="1.3" opacity="0.3"/>
<line x1="475.4" y1="75.3" x2="475.4" y2="96.4" stroke="#a06488" stroke-width="1.3" opacity="0.3"/>
<line x1="478.7" y1="75.3" x2="478.7" y2="91.9" stroke="#5050e8" stroke-width="1.3" opacity="0.3"/>
<line x1="482.2" y1="75.3" x2="482.2" y2="95.3" stroke="#6a9040" stroke-width="1.3" opacity="0.3"/>
<line x1="484.4" y1="75.3" x2="484.4" y2="107.3" stroke="#e04848" stroke-width="1.3" opacity="0.3"/>
<line x1="486.7" y1="75.3" x2="486.7" y2="89.0" stroke="#6a9040" stroke-width="1.3" opacity="0.3"/>
<line x1="491.4" y1="75.3" x2="491.4" y2="88.9" stroke="#f5a030" stroke-width="1.3" opacity="0.3"/>
<line x1="493.8" y1="75.3" x2="493.8" y2="104.1" stroke="#b08850" stroke-width="1.3" opacity="0.3"/>
<line x1="497.9" y1="75.3" x2="497.9" y2="92.5" stroke="#6a9040" stroke-width="1.3" opacity="0.3"/>
<line x1="501.5" y1="75.3" x2="501.5" y2="100.2" stroke="#808080" stroke-width="1.3" opacity="0.3"/>
<line x1="503.7" y1="75.3" x2="503.7" y2="102.8" stroke="#5050e8" stroke-width="1.3" opacity="0.3"/>
<line x1="506.3" y1="75.3" x2="506.3" y2="88.9" stroke="#30c030" stroke-width="1.3" opacity="0.3"/>
<line x1="508.3" y1="75.3" x2="508.3" y2="102.9" stroke="#30c030" stroke-width="1.3" opacity="0.3"/>
<line x1="510.6" y1="75.3" x2="510.6" y2="83.6" stroke="#e04848" stroke-width="1.3" opacity="0.3"/>
<line x1="515.2" y1="75.3" x2="515.2" y2="82.2" stroke="#808080" stroke-width="1.3" opacity="0.3"/>
<line x1="520.2" y1="75.3" x2="520.2" y2="106.2" stroke="#b08850" stroke-width="1.3" opacity="0.3"/>
<line x1="523.0" y1="75.3" x2="523.0" y2="83.0" stroke="#f5a030" stroke-width="1.3" opacity="0.3"/>
<line x1="527.1" y1="75.3" x2="527.1" y2="107.3" stroke="#30c030" stroke-width="1.3" opacity="0.3"/>
<line x1="529.9" y1="75.3" x2="529.9" y2="87.1" stroke="#f5a030" stroke-width="1.3" opacity="0.3"/>
<line x1="532.8" y1="75.3" x2="532.8" y2="95.8" stroke="#6a9040" stroke-width="1.3" opacity="0.3"/>
<line x1="535.4" y1="75.3" x2="535.4" y2="95.0" stroke="#808080" stroke-width="1.3" opacity="0.3"/>
<line x1="538.0" y1="75.3" x2="538.0" y2="102.9" stroke="#a06488" stroke-width="1.3" opacity="0.3"/>
<line x1="543.0" y1="75.3" x2="543.0" y2="82.3" stroke="#5050e8" stroke-width="1.3" opacity="0.3"/>
<line x1="547.2" y1="75.3" x2="547.2" y2="95.3" stroke="#e04848" stroke-width="1.3" opacity="0.3"/>
<line x1="549.9" y1="75.3" x2="549.9" y2="84.6" stroke="#808080" stroke-width="1.3" opacity="0.3"/>
<line x1="554.3" y1="75.3" x2="554.3" y2="99.1" stroke="#b08850" stroke-width="1.3" opacity="0.3"/>
<line x1="558.0" y1="75.3" x2="558.0" y2="107.3" stroke="#b08850" stroke-width="1.3" opacity="0.3"/>
<line x1="560.9" y1="75.3" x2="560.9" y2="107.6" stroke="#e04848" stroke-width="1.3" opacity="0.3"/>
<line x1="563.9" y1="75.3" x2="563.9" y2="92.5" stroke="#f5a030" stroke-width="1.3" opacity="0.3"/>
<line x1="567.0" y1="75.3" x2="567.0" y2="103.8" stroke="#5050e8" stroke-width="1.3" opacity="0.3"/>
<line x1="569.0" y1="75.3" x2="569.0" y2="93.1" stroke="#6a9040" stroke-width="1.3" opacity="0.3"/>
<line x1="571.2" y1="75.3" x2="571.2" y2="104.7" stroke="#b08850" stroke-width="1.3" opacity="0.3"/>
<line x1="575.2" y1="75.3" x2="575.2" y2="97.6" stroke="#6a9040" stroke-width="1.3" opacity="0.3"/>
<line x1="579.3" y1="75.3" x2="579.3" y2="93.9" stroke="#5050e8" stroke-width="1.3" opacity="0.3"/>
<line x1="581.8" y1="75.3" x2="581.8" y2="81.9" stroke="#808080" stroke-width="1.3" opacity="0.3"/>
<line x1="584.8" y1="75.3" x2="584.8" y2="107.4" stroke="#a06488" stroke-width="1.3" opacity="0.3"/>
<line x1="588.5" y1="75.3" x2="588.5" y2="82.8" stroke="#e04848" stroke-width="1.3" opacity="0.3"/>
<line x1="593.1" y1="75.3" x2="593.1" y2="91.2" stroke="#e04848" stroke-width="1.3" opacity="0.3"/>
<line x1="595.1" y1="75.3" x2="595.1" y2="84.1" stroke="#b08850" stroke-width="1.3" opacity="0.3"/>
<line x1="598.0" y1="75.3" x2="598.0" y2="88.4" stroke="#e04848" stroke-width="1.3" opacity="0.3"/>
<line x1="602.3" y1="75.3" x2="602.3" y2="88.8" stroke="#30c030" stroke-width="1.3" opacity="0.3"/>
<line x1="604.6" y1="75.3" x2="604.6" y2="97.2" stroke="#b08850" stroke-width="1.3" opacity="0.3"/>
<line x1="607.8" y1="75.3" x2="607.8" y2="89.8" stroke="#6a9040" stroke-width="1.3" opacity="0.3"/>
<line x1="610.5" y1="75.3" x2="610.5" y2="99.1" stroke="#f5a030" stroke-width="1.3" opacity="0.3"/>
<line x1="614.6" y1="75.3" x2="614.6" y2="101.9" stroke="#b08850" stroke-width="1.3" opacity="0.3"/>
<line x1="618.8" y1="75.3" x2="618.8" y2="85.8" stroke="#808080" stroke-width="1.3" opacity="0.3"/>
<line x1="622.9" y1="75.3" x2="622.9" y2="83.0" stroke="#f5a030" stroke-width="1.3" opacity="0.3"/>
<line x1="627.4" y1="75.3" x2="627.4" y2="101.1" stroke="#b08850" stroke-width="1.3" opacity="0.3"/>
<line x1="631.9" y1="75.3" x2="631.9" y2="105.7" stroke="#f5a030" stroke-width="1.3" opacity="0.3"/>
<line x1="636.1" y1="75.3" x2="636.1" y2="103.5" stroke="#5050e8" stroke-width="1.3" opacity="0.3"/>
<line x1="91.7" y1="75.3" x2="91.7" y2="162.7" stroke="#30c030" stroke-width="1.5" opacity="0.24"/>
<line x1="93.0" y1="75.3" x2="93.0" y2="100.9" stroke="#30c030" stroke-width="1.5" opacity="0.24"/>
<line x1="95.6" y1="75.3" x2="95.6" y2="162.7" stroke="#f5a030" stroke-width="1.5" opacity="0.24"/>
<line x1="97.2" y1="75.3" x2="97.2" y2="100.9" stroke="#b08850" stroke-width="1.5" opacity="0.5"/>
<line x1="98.4" y1="75.3" x2="98.4" y2="92.5" stroke="#f5a030" stroke-width="1.5" opacity="0.5"/>
<line x1="100.6" y1="75.3" x2="100.6" y2="162.7" stroke="#30c030" stroke-width="1.5" opacity="0.24"/>
<line x1="101.4" y1="75.3" x2="101.4" y2="107.6" stroke="#5050e8" stroke-width="1.5" opacity="0.24"/>
<line x1="103.1" y1="75.3" x2="103.1" y2="136.2" stroke="#5050e8" stroke-width="1.5" opacity="0.24"/>
<line x1="104.8" y1="75.3" x2="104.8" y2="122.7" stroke="#e04848" stroke-width="1.5" opacity="0.24"/>
<line x1="107.3" y1="75.3" x2="107.3" y2="162.7" stroke="#5050e8" stroke-width="1.5" opacity="0.5"/>
<line x1="108.2" y1="75.3" x2="108.2" y2="107.6" stroke="#30c030" stroke-width="1.5" opacity="0.5"/>
<line x1="110.7" y1="75.3" x2="110.7" y2="131.1" stroke="#e04848" stroke-width="1.5" opacity="0.24"/>
<line x1="113.2" y1="75.3" x2="113.2" y2="119.4" stroke="#b08850" stroke-width="1.5" opacity="0.5"/>
<line x1="114.6" y1="75.3" x2="114.6" y2="116.0" stroke="#30c030" stroke-width="1.5" opacity="0.5"/>
<line x1="115.7" y1="75.3" x2="115.7" y2="162.7" stroke="#f5a030" stroke-width="1.5" opacity="0.24"/>
<line x1="118.8" y1="75.3" x2="118.8" y2="162.7" stroke="#5050e8" stroke-width="1.5" opacity="0.75"/>
<line x1="119.9" y1="75.3" x2="119.9" y2="121.1" stroke="#b08850" stroke-width="1.5" opacity="0.5"/>
<line x1="121.6" y1="75.3" x2="121.6" y2="131.1" stroke="#f5a030" stroke-width="1.5" opacity="0.5"/>
<line x1="123.3" y1="75.3" x2="123.3" y2="162.7" stroke="#30c030" stroke-width="1.5" opacity="0.24"/>
<line x1="125.3" y1="75.3" x2="125.3" y2="90.8" stroke="#30c030" stroke-width="1.5" opacity="0.24"/>
<line x1="128.3" y1="75.3" x2="128.3" y2="110.1" stroke="#e04848" stroke-width="1.5" opacity="0.5"/>
<line x1="129.7" y1="75.3" x2="129.7" y2="124.4" stroke="#5050e8" stroke-width="1.5" opacity="0.24"/>
<line x1="132.5" y1="75.3" x2="132.5" y2="124.4" stroke="#6a9040" stroke-width="1.5" opacity="0.75"/>
<line x1="132.9" y1="75.3" x2="132.9" y2="162.7" stroke="#e04848" stroke-width="1.5" opacity="0.5"/>
<line x1="135.1" y1="75.3" x2="135.1" y2="116.0" stroke="#30c030" stroke-width="1.5" opacity="0.24"/>
<line x1="137.1" y1="75.3" x2="137.1" y2="126.1" stroke="#30c030" stroke-width="1.5" opacity="0.24"/>
<line x1="137.7" y1="75.3" x2="137.7" y2="126.1" stroke="#30c030" stroke-width="1.5" opacity="0.24"/>
<line x1="139.3" y1="75.3" x2="139.3" y2="107.6" stroke="#f5a030" stroke-width="1.5" opacity="0.24"/>
<line x1="141.4" y1="75.3" x2="141.4" y2="107.6" stroke="#e04848" stroke-width="1.5" opacity="0.24"/>
<line x1="143.5" y1="75.3" x2="143.5" y2="141.2" stroke="#5050e8" stroke-width="1.5" opacity="0.24"/>
<line x1="146.8" y1="75.3" x2="146.8" y2="82.4" stroke="#e04848" stroke-width="1.5" opacity="0.5"/>
<line x1="148.8" y1="75.3" x2="148.8" y2="134.5" stroke="#5050e8" stroke-width="1.5" opacity="0.5"/>
<line x1="149.8" y1="75.3" x2="149.8" y2="162.7" stroke="#e04848" stroke-width="1.5" opacity="0.5"/>
<line x1="151.0" y1="75.3" x2="151.0" y2="162.7" stroke="#5050e8" stroke-width="1.5" opacity="0.5"/>
<line x1="153.5" y1="75.3" x2="153.5" y2="162.7" stroke="#30c030" stroke-width="1.5" opacity="0.24"/>
<line x1="156.1" y1="75.3" x2="156.1" y2="153.0" stroke="#4a9a9a" stroke-width="1.5" opacity="0.5"/>
<line x1="156.4" y1="75.3" x2="156.4" y2="153.0" stroke="#5050e8" stroke-width="1.5" opacity="0.24"/>
<line x1="157.2" y1="75.3" x2="157.2" y2="129.5" stroke="#6a9040" stroke-width="1.5" opacity="0.5"/>
<line x1="158.6" y1="75.3" x2="158.6" y2="144.6" stroke="#5050e8" stroke-width="1.5" opacity="0.24"/>
<line x1="160.6" y1="75.3" x2="160.6" y2="124.4" stroke="#f5a030" stroke-width="1.5" opacity="0.24"/>
<line x1="162.8" y1="75.3" x2="162.8" y2="99.2" stroke="#30c030" stroke-width="1.5" opacity="0.5"/>
<line x1="164.5" y1="75.3" x2="164.5" y2="153.0" stroke="#5050e8" stroke-width="1.5" opacity="0.24"/>
<line x1="166.7" y1="75.3" x2="166.7" y2="112.7" stroke="#5050e8" stroke-width="1.5" opacity="0.5"/>
<line x1="167.0" y1="75.3" x2="167.0" y2="144.6" stroke="#5050e8" stroke-width="1.5" opacity="0.24"/>
<line x1="169.5" y1="75.3" x2="169.5" y2="124.4" stroke="#e04848" stroke-width="1.5" opacity="0.24"/>
<line x1="170.4" y1="75.3" x2="170.4" y2="162.7" stroke="#5050e8" stroke-width="1.5" opacity="0.24"/>
<line x1="174.6" y1="75.3" x2="174.6" y2="99.2" stroke="#4a9a9a" stroke-width="1.5" opacity="0.5"/>
<line x1="176.2" y1="75.3" x2="176.2" y2="105.9" stroke="#5050e8" stroke-width="1.5" opacity="0.24"/>
<line x1="178.8" y1="75.3" x2="178.8" y2="107.6" stroke="#e04848" stroke-width="1.5" opacity="0.24"/>
<line x1="181.3" y1="75.3" x2="181.3" y2="162.7" stroke="#f5a030" stroke-width="1.5" opacity="0.24"/>
<line x1="184.6" y1="75.3" x2="184.6" y2="111.0" stroke="#5050e8" stroke-width="1.5" opacity="0.24"/>
<line x1="186.3" y1="75.3" x2="186.3" y2="132.8" stroke="#30c030" stroke-width="1.5" opacity="0.24"/>
<line x1="188.8" y1="75.3" x2="188.8" y2="89.1" stroke="#f5a030" stroke-width="1.5" opacity="0.5"/>
<line x1="190.5" y1="75.3" x2="190.5" y2="122.7" stroke="#f5a030" stroke-width="1.5" opacity="0.24"/>
<line x1="191.7" y1="75.3" x2="191.7" y2="132.8" stroke="#e04848" stroke-width="1.5" opacity="0.24"/>
<line x1="193.0" y1="75.3" x2="193.0" y2="114.3" stroke="#b08850" stroke-width="1.5" opacity="0.5"/>
<line x1="196.1" y1="75.3" x2="196.1" y2="114.3" stroke="#30c030" stroke-width="1.5" opacity="0.5"/>
<line x1="197.7" y1="75.3" x2="197.7" y2="117.7" stroke="#808080" stroke-width="1.5" opacity="0.5"/>
<line x1="198.9" y1="75.3" x2="198.9" y2="80.7" stroke="#5050e8" stroke-width="1.5" opacity="0.5"/>
<line x1="199.8" y1="75.3" x2="199.8" y2="122.7" stroke="#6a9040" stroke-width="1.5" opacity="0.5"/>
<line x1="200.1" y1="75.3" x2="200.1" y2="162.7" stroke="#30c030" stroke-width="1.5" opacity="0.24"/>
<line x1="201.8" y1="75.3" x2="201.8" y2="124.4" stroke="#f5a030" stroke-width="1.5" opacity="0.24"/>
<line x1="203.5" y1="75.3" x2="203.5" y2="162.7" stroke="#30c030" stroke-width="1.5" opacity="0.24"/>
<line x1="204.8" y1="75.3" x2="204.8" y2="114.3" stroke="#30c030" stroke-width="1.5" opacity="0.5"/>
<line x1="206.2" y1="75.3" x2="206.2" y2="95.8" stroke="#5050e8" stroke-width="1.5" opacity="0.24"/>
<line x1="207.3" y1="75.3" x2="207.3" y2="107.6" stroke="#f5a030" stroke-width="1.5" opacity="0.24"/>
<line x1="209.0" y1="75.3" x2="209.0" y2="97.5" stroke="#b08850" stroke-width="1.5" opacity="0.5"/>
<line x1="210.7" y1="75.3" x2="210.7" y2="151.3" stroke="#5050e8" stroke-width="1.5" opacity="0.5"/>
<line x1="212.4" y1="75.3" x2="212.4" y2="94.2" stroke="#30c030" stroke-width="1.5" opacity="0.5"/>
<line x1="214.9" y1="75.3" x2="214.9" y2="127.8" stroke="#e04848" stroke-width="1.5" opacity="0.24"/>
<line x1="216.9" y1="75.3" x2="216.9" y2="156.4" stroke="#5050e8" stroke-width="1.5" opacity="0.75"/>
<line x1="218.3" y1="75.3" x2="218.3" y2="107.6" stroke="#e04848" stroke-width="1.5" opacity="0.24"/>
<line x1="222.5" y1="75.3" x2="222.5" y2="132.8" stroke="#6a9040" stroke-width="1.5" opacity="0.5"/>
<line x1="223.6" y1="75.3" x2="223.6" y2="158.0" stroke="#30c030" stroke-width="1.5" opacity="0.24"/>
<line x1="225.0" y1="75.3" x2="225.0" y2="116.0" stroke="#e04848" stroke-width="1.5" opacity="0.5"/>
<line x1="226.3" y1="75.3" x2="226.3" y2="127.8" stroke="#e04848" stroke-width="1.5" opacity="0.24"/>
<line x1="228.3" y1="75.3" x2="228.3" y2="124.4" stroke="#f5a030" stroke-width="1.5" opacity="0.24"/>
<line x1="230.0" y1="75.3" x2="230.0" y2="112.7" stroke="#30c030" stroke-width="1.5" opacity="0.5"/>
<line x1="232.0" y1="75.3" x2="232.0" y2="116.0" stroke="#f5a030" stroke-width="1.5" opacity="0.24"/>
<line x1="234.7" y1="75.3" x2="234.7" y2="131.1" stroke="#5050e8" stroke-width="1.5" opacity="0.5"/>
<line x1="236.4" y1="75.3" x2="236.4" y2="141.2" stroke="#5050e8" stroke-width="1.5" opacity="0.24"/>
<line x1="238.4" y1="75.3" x2="238.4" y2="107.6" stroke="#f5a030" stroke-width="1.5" opacity="0.24"/>
<line x1="241.8" y1="75.3" x2="241.8" y2="147.9" stroke="#7050d0" stroke-width="1.5" opacity="0.5"/>
<line x1="243.5" y1="75.3" x2="243.5" y2="122.7" stroke="#a06488" stroke-width="1.5" opacity="0.24"/>
<line x1="244.8" y1="75.3" x2="244.8" y2="90.8" stroke="#e04848" stroke-width="1.5" opacity="0.24"/>
<line x1="246.5" y1="75.3" x2="246.5" y2="149.6" stroke="#5050e8" stroke-width="1.5" opacity="0.5"/>
<line x1="248.8" y1="75.3" x2="248.8" y2="114.3" stroke="#a06488" stroke-width="1.5" opacity="0.5"/>
<line x1="249.8" y1="75.3" x2="249.8" y2="124.4" stroke="#e04848" stroke-width="1.5" opacity="0.24"/>
<line x1="251.9" y1="75.3" x2="251.9" y2="107.6" stroke="#f5a030" stroke-width="1.5" opacity="0.24"/>
<line x1="254.4" y1="75.3" x2="254.4" y2="99.2" stroke="#a06488" stroke-width="1.5" opacity="0.5"/>
<line x1="254.7" y1="75.3" x2="254.7" y2="162.7" stroke="#e04848" stroke-width="1.5" opacity="0.24"/>
<line x1="256.1" y1="75.3" x2="256.1" y2="131.1" stroke="#e04848" stroke-width="1.5" opacity="0.5"/>
<line x1="257.2" y1="75.3" x2="257.2" y2="90.8" stroke="#e04848" stroke-width="1.5" opacity="0.5"/>
<line x1="259.4" y1="75.3" x2="259.4" y2="104.3" stroke="#f5a030" stroke-width="1.5" opacity="0.5"/>
<line x1="260.6" y1="75.3" x2="260.6" y2="129.5" stroke="#30c030" stroke-width="1.5" opacity="0.24"/>
<line x1="262.8" y1="75.3" x2="262.8" y2="116.0" stroke="#f5a030" stroke-width="1.5" opacity="0.24"/>
<line x1="265.3" y1="75.3" x2="265.3" y2="162.7" stroke="#30c030" stroke-width="1.5" opacity="0.24"/>
<line x1="267.0" y1="75.3" x2="267.0" y2="104.3" stroke="#e04848" stroke-width="1.5" opacity="0.5"/>
<line x1="268.3" y1="75.3" x2="268.3" y2="124.4" stroke="#f5a030" stroke-width="1.5" opacity="0.24"/>
<line x1="270.4" y1="75.3" x2="270.4" y2="116.0" stroke="#e04848" stroke-width="1.5" opacity="0.24"/>
<line x1="272.4" y1="75.3" x2="272.4" y2="142.9" stroke="#5050e8" stroke-width="1.5" opacity="0.5"/>
<line x1="273.7" y1="75.3" x2="273.7" y2="107.6" stroke="#f5a030" stroke-width="1.5" opacity="0.24"/>
<line x1="275.4" y1="75.3" x2="275.4" y2="122.7" stroke="#5050e8" stroke-width="1.5" opacity="0.24"/>
<line x1="277.1" y1="75.3" x2="277.1" y2="116.0" stroke="#e04848" stroke-width="1.5" opacity="0.24"/>
<line x1="278.4" y1="75.3" x2="278.4" y2="119.4" stroke="#30c030" stroke-width="1.5" opacity="0.5"/>
<line x1="280.1" y1="75.3" x2="280.1" y2="92.5" stroke="#30c030" stroke-width="1.5" opacity="0.5"/>
<line x1="282.1" y1="75.3" x2="282.1" y2="116.0" stroke="#f5a030" stroke-width="1.5" opacity="0.24"/>
<line x1="283.8" y1="75.3" x2="283.8" y2="124.4" stroke="#30c030" stroke-width="1.5" opacity="0.24"/>
<line x1="286.3" y1="75.3" x2="286.3" y2="162.7" stroke="#f5a030" stroke-width="1.5" opacity="0.24"/>
<line x1="290.5" y1="75.3" x2="290.5" y2="162.7" stroke="#5050e8" stroke-width="1.5" opacity="0.24"/>
<line x1="291.7" y1="75.3" x2="291.7" y2="105.9" stroke="#e04848" stroke-width="1.5" opacity="0.5"/>
<line x1="293.9" y1="75.3" x2="293.9" y2="124.4" stroke="#f5a030" stroke-width="1.5" opacity="0.24"/>
<line x1="298.1" y1="75.3" x2="298.1" y2="162.7" stroke="#f5a030" stroke-width="1.5" opacity="0.24"/>
<line x1="301.4" y1="75.3" x2="301.4" y2="158.0" stroke="#30c030" stroke-width="1.5" opacity="0.5"/>
<line x1="301.8" y1="75.3" x2="301.8" y2="158.0" stroke="#5050e8" stroke-width="1.5" opacity="0.24"/>
<line x1="302.8" y1="75.3" x2="302.8" y2="107.6" stroke="#f5a030" stroke-width="1.5" opacity="0.24"/>
<line x1="304.8" y1="75.3" x2="304.8" y2="116.0" stroke="#e04848" stroke-width="1.5" opacity="0.5"/>
<line x1="306.5" y1="75.3" x2="306.5" y2="124.4" stroke="#f5a030" stroke-width="1.5" opacity="0.24"/>
<line x1="308.5" y1="75.3" x2="308.5" y2="136.2" stroke="#30c030" stroke-width="1.5" opacity="0.5"/>
<line x1="309.8" y1="75.3" x2="309.8" y2="162.7" stroke="#4a9a9a" stroke-width="1.5" opacity="0.24"/>
<line x1="312.4" y1="75.3" x2="312.4" y2="124.4" stroke="#5050e8" stroke-width="1.5" opacity="0.24"/>
<line x1="314.1" y1="75.3" x2="314.1" y2="144.6" stroke="#30c030" stroke-width="1.5" opacity="0.5"/>
<line x1="315.7" y1="75.3" x2="315.7" y2="124.4" stroke="#30c030" stroke-width="1.5" opacity="0.24"/>
<line x1="317.4" y1="75.3" x2="317.4" y2="129.5" stroke="#e04848" stroke-width="1.5" opacity="0.5"/>
<line x1="319.1" y1="75.3" x2="319.1" y2="116.0" stroke="#f5a030" stroke-width="1.5" opacity="0.24"/>
<line x1="320.8" y1="75.3" x2="320.8" y2="131.1" stroke="#6a9040" stroke-width="1.5" opacity="0.5"/>
<line x1="321.1" y1="75.3" x2="321.1" y2="162.7" stroke="#30c030" stroke-width="1.5" opacity="0.24"/>
<line x1="323.3" y1="75.3" x2="323.3" y2="124.4" stroke="#f5a030" stroke-width="1.5" opacity="0.24"/>
<line x1="325.8" y1="75.3" x2="325.8" y2="124.4" stroke="#5050e8" stroke-width="1.5" opacity="0.24"/>
<line x1="328.0" y1="75.3" x2="328.0" y2="158.0" stroke="#808080" stroke-width="1.5" opacity="0.5"/>
<line x1="329.2" y1="75.3" x2="329.2" y2="107.6" stroke="#f5a030" stroke-width="1.5" opacity="0.24"/>
<line x1="331.4" y1="75.3" x2="331.4" y2="129.5" stroke="#5050e8" stroke-width="1.5" opacity="0.24"/>
<line x1="333.0" y1="75.3" x2="333.0" y2="116.0" stroke="#30c030" stroke-width="1.5" opacity="0.5"/>
<line x1="334.2" y1="75.3" x2="334.2" y2="158.0" stroke="#30c030" stroke-width="1.5" opacity="0.24"/>
<line x1="336.7" y1="75.3" x2="336.7" y2="124.4" stroke="#f5a030" stroke-width="1.5" opacity="0.24"/>
<line x1="338.4" y1="75.3" x2="338.4" y2="158.0" stroke="#5050e8" stroke-width="1.5" opacity="0.5"/>
<line x1="340.1" y1="75.3" x2="340.1" y2="144.6" stroke="#e04848" stroke-width="1.5" opacity="0.24"/>
<line x1="341.4" y1="75.3" x2="341.4" y2="124.4" stroke="#30c030" stroke-width="1.5" opacity="0.5"/>
<line x1="343.5" y1="75.3" x2="343.5" y2="107.6" stroke="#f5a030" stroke-width="1.5" opacity="0.24"/>
<line x1="345.1" y1="75.3" x2="345.1" y2="162.7" stroke="#5050e8" stroke-width="1.5" opacity="0.5"/>
<line x1="346.8" y1="75.3" x2="346.8" y2="124.4" stroke="#e04848" stroke-width="1.5" opacity="0.5"/>
<line x1="348.2" y1="75.3" x2="348.2" y2="116.0" stroke="#f5a030" stroke-width="1.5" opacity="0.24"/>
<line x1="351.0" y1="75.3" x2="351.0" y2="90.8" stroke="#7050d0" stroke-width="1.5" opacity="0.75"/>
<line x1="351.2" y1="75.3" x2="351.2" y2="162.7" stroke="#808080" stroke-width="1.5" opacity="0.24"/>
<line x1="351.9" y1="75.3" x2="351.9" y2="149.6" stroke="#30c030" stroke-width="1.5" opacity="0.5"/>
<line x1="354.4" y1="75.3" x2="354.4" y2="129.5" stroke="#e04848" stroke-width="1.5" opacity="0.5"/>
<line x1="356.9" y1="75.3" x2="356.9" y2="121.1" stroke="#4a9a9a" stroke-width="1.5" opacity="0.5"/>
<line x1="357.7" y1="75.3" x2="357.7" y2="158.0" stroke="#30c030" stroke-width="1.5" opacity="0.24"/>
<line x1="359.4" y1="75.3" x2="359.4" y2="124.4" stroke="#f5a030" stroke-width="1.5" opacity="0.24"/>
<line x1="361.9" y1="75.3" x2="361.9" y2="112.7" stroke="#6a9040" stroke-width="1.5" opacity="0.5"/>
<line x1="363.6" y1="75.3" x2="363.6" y2="149.6" stroke="#30c030" stroke-width="1.5" opacity="0.24"/>
<line x1="365.3" y1="75.3" x2="365.3" y2="124.4" stroke="#e04848" stroke-width="1.5" opacity="0.24"/>
<line x1="367.0" y1="75.3" x2="367.0" y2="116.0" stroke="#30c030" stroke-width="1.5" opacity="0.24"/>
<line x1="368.7" y1="75.3" x2="368.7" y2="107.6" stroke="#f5a030" stroke-width="1.5" opacity="0.24"/>
<line x1="370.4" y1="75.3" x2="370.4" y2="79.0" stroke="#7050d0" stroke-width="1.5" opacity="0.5"/>
<line x1="371.2" y1="75.3" x2="371.2" y2="116.0" stroke="#e04848" stroke-width="1.5" opacity="0.5"/>
<line x1="372.9" y1="75.3" x2="372.9" y2="144.6" stroke="#e04848" stroke-width="1.5" opacity="0.24"/>
<line x1="374.6" y1="75.3" x2="374.6" y2="112.7" stroke="#808080" stroke-width="1.5" opacity="0.5"/>
<line x1="376.2" y1="75.3" x2="376.2" y2="117.7" stroke="#6a9040" stroke-width="1.5" opacity="0.5"/>
<line x1="376.6" y1="75.3" x2="376.6" y2="162.7" stroke="#f5a030" stroke-width="1.5" opacity="0.24"/>
<line x1="377.9" y1="75.3" x2="377.9" y2="124.4" stroke="#f5a030" stroke-width="1.5" opacity="0.24"/>
<line x1="380.4" y1="75.3" x2="380.4" y2="132.8" stroke="#30c030" stroke-width="1.5" opacity="0.24"/>
<line x1="382.1" y1="75.3" x2="382.1" y2="116.0" stroke="#f5a030" stroke-width="1.5" opacity="0.24"/>
<line x1="384.6" y1="75.3" x2="384.6" y2="99.2" stroke="#e04848" stroke-width="1.5" opacity="0.5"/>
<line x1="386.3" y1="75.3" x2="386.3" y2="124.4" stroke="#e04848" stroke-width="1.5" opacity="0.24"/>
<line x1="388.8" y1="75.3" x2="388.8" y2="104.3" stroke="#a06488" stroke-width="1.5" opacity="0.75"/>
<line x1="389.3" y1="75.3" x2="389.3" y2="162.7" stroke="#e04848" stroke-width="1.5" opacity="0.5"/>
<line x1="390.0" y1="75.3" x2="390.0" y2="162.7" stroke="#e04848" stroke-width="1.5" opacity="0.24"/>
<line x1="391.7" y1="75.3" x2="391.7" y2="124.4" stroke="#f5a030" stroke-width="1.5" opacity="0.24"/>
<line x1="393.4" y1="75.3" x2="393.4" y2="142.9" stroke="#30c030" stroke-width="1.5" opacity="0.5"/>
<line x1="394.7" y1="75.3" x2="394.7" y2="102.6" stroke="#e04848" stroke-width="1.5" opacity="0.5"/>
<line x1="396.4" y1="75.3" x2="396.4" y2="116.0" stroke="#f5a030" stroke-width="1.5" opacity="0.24"/>
<line x1="400.6" y1="75.3" x2="400.6" y2="162.7" stroke="#5050e8" stroke-width="1.5" opacity="0.75"/>
<line x1="403.1" y1="75.3" x2="403.1" y2="124.4" stroke="#e04848" stroke-width="1.5" opacity="0.24"/>
<line x1="404.8" y1="75.3" x2="404.8" y2="107.6" stroke="#f5a030" stroke-width="1.5" opacity="0.24"/>
<line x1="406.8" y1="75.3" x2="406.8" y2="104.3" stroke="#30c030" stroke-width="1.5" opacity="0.5"/>
<line x1="407.2" y1="75.3" x2="407.2" y2="134.5" stroke="#30c030" stroke-width="1.5" opacity="0.24"/>
<line x1="408.5" y1="75.3" x2="408.5" y2="124.4" stroke="#f5a030" stroke-width="1.5" opacity="0.24"/>
<line x1="411.5" y1="75.3" x2="411.5" y2="132.8" stroke="#808080" stroke-width="1.5" opacity="0.5"/>
<line x1="411.9" y1="75.3" x2="411.9" y2="162.7" stroke="#5050e8" stroke-width="1.5" opacity="0.5"/>
<line x1="413.2" y1="75.3" x2="413.2" y2="116.0" stroke="#b08850" stroke-width="1.5" opacity="0.5"/>
<line x1="414.9" y1="75.3" x2="414.9" y2="124.4" stroke="#f5a030" stroke-width="1.5" opacity="0.24"/>
<line x1="416.6" y1="75.3" x2="416.6" y2="124.4" stroke="#5050e8" stroke-width="1.5" opacity="0.24"/>
<line x1="417.9" y1="75.3" x2="417.9" y2="80.7" stroke="#5050e8" stroke-width="1.5" opacity="0.5"/>
<line x1="419.1" y1="75.3" x2="419.1" y2="124.4" stroke="#e04848" stroke-width="1.5" opacity="0.24"/>
<line x1="420.8" y1="75.3" x2="420.8" y2="162.7" stroke="#f5a030" stroke-width="1.5" opacity="0.24"/>
<line x1="423.3" y1="75.3" x2="423.3" y2="116.0" stroke="#4a9a9a" stroke-width="1.5" opacity="0.5"/>
<line x1="424.6" y1="75.3" x2="424.6" y2="117.7" stroke="#30c030" stroke-width="1.5" opacity="0.5"/>
<line x1="425.0" y1="75.3" x2="425.0" y2="158.0" stroke="#30c030" stroke-width="1.5" opacity="0.24"/>
<line x1="427.5" y1="75.3" x2="427.5" y2="116.0" stroke="#f5a030" stroke-width="1.5" opacity="0.24"/>
<line x1="429.7" y1="75.3" x2="429.7" y2="124.4" stroke="#808080" stroke-width="1.5" opacity="0.75"/>
<line x1="430.0" y1="75.3" x2="430.0" y2="144.6" stroke="#5050e8" stroke-width="1.5" opacity="0.5"/>
<line x1="431.4" y1="75.3" x2="431.4" y2="124.4" stroke="#6a9040" stroke-width="1.5" opacity="0.5"/>
<line x1="433.4" y1="75.3" x2="433.4" y2="116.0" stroke="#f5a030" stroke-width="1.5" opacity="0.24"/>
<line x1="435.9" y1="75.3" x2="435.9" y2="102.6" stroke="#30c030" stroke-width="1.5" opacity="0.5"/>
<line x1="437.2" y1="75.3" x2="437.2" y2="129.5" stroke="#30c030" stroke-width="1.5" opacity="0.5"/>
<line x1="439.3" y1="75.3" x2="439.3" y2="158.0" stroke="#f5a030" stroke-width="1.5" opacity="0.5"/>
<line x1="441.4" y1="75.3" x2="441.4" y2="124.4" stroke="#5050e8" stroke-width="1.5" opacity="0.24"/>
<line x1="442.6" y1="75.3" x2="442.6" y2="134.5" stroke="#5050e8" stroke-width="1.5" opacity="0.5"/>
<line x1="444.8" y1="75.3" x2="444.8" y2="162.7" stroke="#f5a030" stroke-width="1.5" opacity="0.5"/>
<line x1="446.8" y1="75.3" x2="446.8" y2="116.0" stroke="#f5a030" stroke-width="1.5" opacity="0.24"/>
<line x1="448.5" y1="75.3" x2="448.5" y2="124.4" stroke="#e04848" stroke-width="1.5" opacity="0.24"/>
<line x1="449.8" y1="75.3" x2="449.8" y2="124.4" stroke="#30c030" stroke-width="1.5" opacity="0.24"/>
<line x1="451.5" y1="75.3" x2="451.5" y2="94.2" stroke="#b08850" stroke-width="1.5" opacity="0.5"/>
<line x1="451.9" y1="75.3" x2="451.9" y2="131.1" stroke="#e04848" stroke-width="1.5" opacity="0.24"/>
<line x1="453.9" y1="75.3" x2="453.9" y2="124.4" stroke="#30c030" stroke-width="1.5" opacity="0.24"/>
<line x1="455.2" y1="75.3" x2="455.2" y2="87.4" stroke="#6a9040" stroke-width="1.5" opacity="0.5"/>
<line x1="456.6" y1="75.3" x2="456.6" y2="95.8" stroke="#e04848" stroke-width="1.5" opacity="0.5"/>
<line x1="458.3" y1="75.3" x2="458.3" y2="116.0" stroke="#f5a030" stroke-width="1.5" opacity="0.24"/>
<line x1="460.3" y1="75.3" x2="460.3" y2="121.1" stroke="#30c030" stroke-width="1.5" opacity="0.75"/>
<line x1="460.6" y1="75.3" x2="460.6" y2="158.0" stroke="#30c030" stroke-width="1.5" opacity="0.24"/>
<line x1="461.9" y1="75.3" x2="461.9" y2="124.4" stroke="#30c030" stroke-width="1.5" opacity="0.24"/>
<line x1="464.5" y1="75.3" x2="464.5" y2="119.4" stroke="#e04848" stroke-width="1.5" opacity="0.5"/>
<line x1="466.2" y1="75.3" x2="466.2" y2="116.0" stroke="#f5a030" stroke-width="1.5" opacity="0.24"/>
<line x1="468.3" y1="75.3" x2="468.3" y2="129.5" stroke="#a06488" stroke-width="1.5" opacity="0.5"/>
<line x1="468.7" y1="75.3" x2="468.7" y2="162.7" stroke="#e04848" stroke-width="1.5" opacity="0.24"/>
<line x1="470.4" y1="75.3" x2="470.4" y2="124.4" stroke="#f5a030" stroke-width="1.5" opacity="0.24"/>
<line x1="471.7" y1="75.3" x2="471.7" y2="107.6" stroke="#f5a030" stroke-width="1.5" opacity="0.24"/>
<line x1="474.1" y1="75.3" x2="474.1" y2="141.2" stroke="#e04848" stroke-width="1.5" opacity="0.5"/>
<line x1="475.4" y1="75.3" x2="475.4" y2="116.0" stroke="#f5a030" stroke-width="1.5" opacity="0.24"/>
<line x1="477.9" y1="75.3" x2="477.9" y2="90.8" stroke="#6a9040" stroke-width="1.5" opacity="0.5"/>
<line x1="479.6" y1="75.3" x2="479.6" y2="162.7" stroke="#30c030" stroke-width="1.5" opacity="0.5"/>
<line x1="481.8" y1="75.3" x2="481.8" y2="127.8" stroke="#e04848" stroke-width="1.5" opacity="0.5"/>
<line x1="483.0" y1="75.3" x2="483.0" y2="116.0" stroke="#f5a030" stroke-width="1.5" opacity="0.24"/>
<line x1="485.1" y1="75.3" x2="485.1" y2="139.5" stroke="#30c030" stroke-width="1.5" opacity="0.24"/>
<line x1="486.3" y1="75.3" x2="486.3" y2="124.4" stroke="#f5a030" stroke-width="1.5" opacity="0.24"/>
<line x1="489.3" y1="75.3" x2="489.3" y2="162.7" stroke="#e04848" stroke-width="1.5" opacity="0.24"/>
<line x1="492.7" y1="75.3" x2="492.7" y2="90.8" stroke="#a06488" stroke-width="1.5" opacity="0.5"/>
<line x1="495.6" y1="75.3" x2="495.6" y2="162.7" stroke="#f5a030" stroke-width="1.5" opacity="0.24"/>
<line x1="498.4" y1="75.3" x2="498.4" y2="136.2" stroke="#6a9040" stroke-width="1.5" opacity="0.5"/>
<line x1="498.8" y1="75.3" x2="498.8" y2="162.7" stroke="#30c030" stroke-width="1.5" opacity="0.24"/>
<line x1="499.8" y1="75.3" x2="499.8" y2="87.4" stroke="#b08850" stroke-width="1.5" opacity="0.5"/>
<line x1="501.4" y1="75.3" x2="501.4" y2="124.4" stroke="#f5a030" stroke-width="1.5" opacity="0.24"/>
<line x1="504.0" y1="75.3" x2="504.0" y2="144.6" stroke="#5050e8" stroke-width="1.5" opacity="0.24"/>
<line x1="505.1" y1="75.3" x2="505.1" y2="158.0" stroke="#6a9040" stroke-width="1.5" opacity="0.5"/>
<line x1="506.5" y1="75.3" x2="506.5" y2="116.0" stroke="#f5a030" stroke-width="1.5" opacity="0.24"/>
<line x1="509.5" y1="75.3" x2="509.5" y2="107.6" stroke="#7050d0" stroke-width="1.5" opacity="0.5"/>
<line x1="510.7" y1="75.3" x2="510.7" y2="162.7" stroke="#f5a030" stroke-width="1.5" opacity="0.24"/>
<line x1="512.4" y1="75.3" x2="512.4" y2="116.0" stroke="#f5a030" stroke-width="1.5" opacity="0.24"/>
<line x1="514.9" y1="75.3" x2="514.9" y2="134.5" stroke="#5050e8" stroke-width="1.5" opacity="0.24"/>
<line x1="516.6" y1="75.3" x2="516.6" y2="146.3" stroke="#b08850" stroke-width="1.5" opacity="0.5"/>
<line x1="518.3" y1="75.3" x2="518.3" y2="158.0" stroke="#f5a030" stroke-width="1.5" opacity="0.24"/>
<line x1="520.8" y1="75.3" x2="520.8" y2="116.0" stroke="#f5a030" stroke-width="1.5" opacity="0.24"/>
<line x1="522.5" y1="75.3" x2="522.5" y2="134.5" stroke="#e04848" stroke-width="1.5" opacity="0.75"/>
<line x1="522.8" y1="75.3" x2="522.8" y2="162.7" stroke="#e04848" stroke-width="1.5" opacity="0.24"/>
<line x1="524.1" y1="75.3" x2="524.1" y2="124.4" stroke="#e04848" stroke-width="1.5" opacity="0.24"/>
<line x1="528.0" y1="75.3" x2="528.0" y2="131.1" stroke="#808080" stroke-width="1.5" opacity="0.5"/>
<line x1="529.2" y1="75.3" x2="529.2" y2="158.0" stroke="#30c030" stroke-width="1.5" opacity="0.24"/>
<line x1="530.9" y1="75.3" x2="530.9" y2="162.7" stroke="#a06488" stroke-width="1.5" opacity="0.24"/>
<line x1="533.0" y1="75.3" x2="533.0" y2="144.6" stroke="#5050e8" stroke-width="1.5" opacity="0.5"/>
<line x1="534.7" y1="75.3" x2="534.7" y2="132.8" stroke="#30c030" stroke-width="1.5" opacity="0.5"/>
<line x1="535.9" y1="75.3" x2="535.9" y2="116.0" stroke="#f5a030" stroke-width="1.5" opacity="0.24"/>
<line x1="538.4" y1="75.3" x2="538.4" y2="158.0" stroke="#5050e8" stroke-width="1.5" opacity="0.24"/>
<line x1="541.4" y1="75.3" x2="541.4" y2="121.1" stroke="#b08850" stroke-width="1.5" opacity="0.5"/>
<line x1="541.8" y1="75.3" x2="541.8" y2="162.7" stroke="#e04848" stroke-width="1.5" opacity="0.24"/>
<line x1="542.6" y1="75.3" x2="542.6" y2="116.0" stroke="#f5a030" stroke-width="1.5" opacity="0.5"/>
<line x1="544.8" y1="75.3" x2="544.8" y2="116.0" stroke="#f5a030" stroke-width="1.5" opacity="0.24"/>
<line x1="547.2" y1="75.3" x2="547.2" y2="119.4" stroke="#a06488" stroke-width="1.5" opacity="0.5"/>
<line x1="549.3" y1="75.3" x2="549.3" y2="107.6" stroke="#f5a030" stroke-width="1.5" opacity="0.24"/>
<line x1="551.9" y1="75.3" x2="551.9" y2="124.4" stroke="#30c030" stroke-width="1.5" opacity="0.24"/>
<line x1="553.2" y1="75.3" x2="553.2" y2="136.2" stroke="#30c030" stroke-width="1.5" opacity="0.5"/>
<line x1="555.2" y1="75.3" x2="555.2" y2="158.0" stroke="#30c030" stroke-width="1.5" opacity="0.24"/>
<line x1="556.9" y1="75.3" x2="556.9" y2="124.4" stroke="#f5a030" stroke-width="1.5" opacity="0.24"/>
<line x1="558.6" y1="75.3" x2="558.6" y2="162.7" stroke="#30c030" stroke-width="1.5" opacity="0.5"/>
<line x1="561.1" y1="75.3" x2="561.1" y2="124.4" stroke="#e04848" stroke-width="1.5" opacity="0.24"/>
<line x1="562.8" y1="75.3" x2="562.8" y2="116.0" stroke="#f5a030" stroke-width="1.5" opacity="0.24"/>
<line x1="565.0" y1="75.3" x2="565.0" y2="141.2" stroke="#6a9040" stroke-width="1.5" opacity="0.5"/>
<line x1="565.3" y1="75.3" x2="565.3" y2="158.0" stroke="#e04848" stroke-width="1.5" opacity="0.5"/>
<line x1="566.7" y1="75.3" x2="566.7" y2="124.4" stroke="#e04848" stroke-width="1.5" opacity="0.24"/>
<line x1="568.3" y1="75.3" x2="568.3" y2="116.0" stroke="#f5a030" stroke-width="1.5" opacity="0.24"/>
<line x1="570.8" y1="75.3" x2="570.8" y2="94.2" stroke="#a06488" stroke-width="1.5" opacity="0.5"/>
<line x1="571.0" y1="75.3" x2="571.0" y2="162.7" stroke="#5050e8" stroke-width="1.5" opacity="0.24"/>
<line x1="573.0" y1="75.3" x2="573.0" y2="107.6" stroke="#30c030" stroke-width="1.5" opacity="0.24"/>
<line x1="575.0" y1="75.3" x2="575.0" y2="141.2" stroke="#5050e8" stroke-width="1.5" opacity="0.24"/>
<line x1="577.1" y1="75.3" x2="577.1" y2="162.7" stroke="#f5a030" stroke-width="1.5" opacity="0.24"/>
<line x1="579.2" y1="75.3" x2="579.2" y2="134.5" stroke="#e04848" stroke-width="1.5" opacity="0.5"/>
<line x1="580.9" y1="75.3" x2="580.9" y2="116.0" stroke="#f5a030" stroke-width="1.5" opacity="0.24"/>
<line x1="582.1" y1="75.3" x2="582.1" y2="141.2" stroke="#5050e8" stroke-width="1.5" opacity="0.5"/>
<line x1="584.3" y1="75.3" x2="584.3" y2="124.4" stroke="#f5a030" stroke-width="1.5" opacity="0.24"/>
<line x1="586.0" y1="75.3" x2="586.0" y2="151.3" stroke="#f5a030" stroke-width="1.5" opacity="0.24"/>
<line x1="588.2" y1="75.3" x2="588.2" y2="109.3" stroke="#808080" stroke-width="1.5" opacity="0.5"/>
<line x1="588.8" y1="75.3" x2="588.8" y2="127.8" stroke="#f5a030" stroke-width="1.5" opacity="0.24"/>
<line x1="589.8" y1="75.3" x2="589.8" y2="162.7" stroke="#30c030" stroke-width="1.5" opacity="0.24"/>
<line x1="591.5" y1="75.3" x2="591.5" y2="90.8" stroke="#b08850" stroke-width="1.5" opacity="0.5"/>
<line x1="593.5" y1="75.3" x2="593.5" y2="116.0" stroke="#f5a030" stroke-width="1.5" opacity="0.24"/>
<line x1="595.2" y1="75.3" x2="595.2" y2="95.8" stroke="#6a9040" stroke-width="1.5" opacity="0.5"/>
<line x1="596.1" y1="75.3" x2="596.1" y2="153.0" stroke="#5050e8" stroke-width="1.5" opacity="0.5"/>
<line x1="598.6" y1="75.3" x2="598.6" y2="162.7" stroke="#e04848" stroke-width="1.5" opacity="0.24"/>
<line x1="600.6" y1="75.3" x2="600.6" y2="116.0" stroke="#30c030" stroke-width="1.5" opacity="0.24"/>
<line x1="601.9" y1="75.3" x2="601.9" y2="124.4" stroke="#f5a030" stroke-width="1.5" opacity="0.24"/>
<line x1="603.3" y1="75.3" x2="603.3" y2="124.4" stroke="#30c030" stroke-width="1.5" opacity="0.24"/>
<line x1="606.1" y1="75.3" x2="606.1" y2="87.4" stroke="#4a9a9a" stroke-width="1.5" opacity="0.5"/>
<line x1="607.3" y1="75.3" x2="607.3" y2="134.5" stroke="#30c030" stroke-width="1.5" opacity="0.5"/>
<line x1="610.3" y1="75.3" x2="610.3" y2="149.6" stroke="#5050e8" stroke-width="1.5" opacity="0.24"/>
<line x1="612.0" y1="75.3" x2="612.0" y2="162.7" stroke="#e04848" stroke-width="1.5" opacity="0.24"/>
<line x1="613.4" y1="75.3" x2="613.4" y2="132.8" stroke="#6a9040" stroke-width="1.5" opacity="0.5"/>
<line x1="614.0" y1="75.3" x2="614.0" y2="162.7" stroke="#e04848" stroke-width="1.5" opacity="0.24"/>
<line x1="615.4" y1="75.3" x2="615.4" y2="107.6" stroke="#30c030" stroke-width="1.5" opacity="0.5"/>
<line x1="617.9" y1="75.3" x2="617.9" y2="146.3" stroke="#5050e8" stroke-width="1.5" opacity="0.5"/>
<line x1="619.6" y1="75.3" x2="619.6" y2="116.0" stroke="#f5a030" stroke-width="1.5" opacity="0.24"/>
<line x1="621.3" y1="75.3" x2="621.3" y2="124.4" stroke="#f5a030" stroke-width="1.5" opacity="0.24"/>
<line x1="623.4" y1="75.3" x2="623.4" y2="116.0" stroke="#30c030" stroke-width="1.5" opacity="0.24"/>
<line x1="625.1" y1="75.3" x2="625.1" y2="134.5" stroke="#4a9a9a" stroke-width="1.5" opacity="0.5"/>
<line x1="625.5" y1="75.3" x2="625.5" y2="162.7" stroke="#e04848" stroke-width="1.5" opacity="0.24"/>
<line x1="627.1" y1="75.3" x2="627.1" y2="141.2" stroke="#5050e8" stroke-width="1.5" opacity="0.24"/>
<line x1="629.2" y1="75.3" x2="629.2" y2="107.6" stroke="#5050e8" stroke-width="1.5" opacity="0.24"/>
<line x1="630.8" y1="75.3" x2="630.8" y2="116.0" stroke="#f5a030" stroke-width="1.5" opacity="0.24"/>
<line x1="632.5" y1="75.3" x2="632.5" y2="102.6" stroke="#e04848" stroke-width="1.5" opacity="0.5"/>
<line x1="632.9" y1="75.3" x2="632.9" y2="142.9" stroke="#b08850" stroke-width="1.5" opacity="0.5"/>
<line x1="634.7" y1="75.3" x2="634.7" y2="124.4" stroke="#f5a030" stroke-width="1.5" opacity="0.24"/>
<line x1="636.9" y1="75.3" x2="636.9" y2="80.7" stroke="#5050e8" stroke-width="1.5" opacity="0.5"/>
<line x1="637.2" y1="75.3" x2="637.2" y2="94.2" stroke="#30c030" stroke-width="1.5" opacity="0.24"/>
<line x1="638.1" y1="75.3" x2="638.1" y2="127.8" stroke="#f5a030" stroke-width="1.5" opacity="0.24"/>
<line x1="639.2" y1="75.3" x2="639.2" y2="107.6" stroke="#f5a030" stroke-width="1.5" opacity="0.24"/>
<line x1="94.1" y1="75.3" x2="94.1" y2="36.2" stroke="#5050e8" stroke-width="1.3" opacity="0.20"/>
<line x1="95.6" y1="75.3" x2="95.6" y2="57.7" stroke="#7050d0" stroke-width="1.3" opacity="0.64"/>
<line x1="102.3" y1="75.3" x2="102.3" y2="60.7" stroke="#30c030" stroke-width="1.3" opacity="0.42"/>
<line x1="108.4" y1="75.3" x2="108.4" y2="55.6" stroke="#f5a030" stroke-width="1.3" opacity="0.20"/>
<line x1="115.6" y1="75.3" x2="115.6" y2="62.8" stroke="#5050e8" stroke-width="1.3" opacity="0.20"/>
<line x1="125.8" y1="75.3" x2="125.8" y2="41.3" stroke="#f5a030" stroke-width="1.3" opacity="0.20"/>
<line x1="126.8" y1="75.3" x2="126.8" y2="63.8" stroke="#a06488" stroke-width="1.3" opacity="0.42"/>
<line x1="129.9" y1="75.3" x2="129.9" y2="67.9" stroke="#f5a030" stroke-width="1.3" opacity="0.20"/>
<line x1="136.0" y1="75.3" x2="136.0" y2="60.7" stroke="#5050e8" stroke-width="1.3" opacity="0.20"/>
<line x1="138.7" y1="75.3" x2="138.7" y2="41.3" stroke="#f5a030" stroke-width="1.3" opacity="0.20"/>
<line x1="139.7" y1="75.3" x2="139.7" y2="56.7" stroke="#b08850" stroke-width="1.3" opacity="0.42"/>
<line x1="143.2" y1="75.3" x2="143.2" y2="46.4" stroke="#30c030" stroke-width="1.3" opacity="0.20"/>
<line x1="145.6" y1="75.3" x2="145.6" y2="54.6" stroke="#e04848" stroke-width="1.3" opacity="0.20"/>
<line x1="155.9" y1="75.3" x2="155.9" y2="55.6" stroke="#f5a030" stroke-width="1.3" opacity="0.20"/>
<line x1="162.2" y1="75.3" x2="162.2" y2="31.7" stroke="#5050e8" stroke-width="1.3" opacity="0.42"/>
<line x1="166.7" y1="75.3" x2="166.7" y2="63.8" stroke="#e04848" stroke-width="1.3" opacity="0.20"/>
<line x1="169.3" y1="75.3" x2="169.3" y2="65.9" stroke="#30c030" stroke-width="1.3" opacity="0.20"/>
<line x1="173.4" y1="75.3" x2="173.4" y2="42.3" stroke="#30c030" stroke-width="1.3" opacity="0.20"/>
<line x1="173.8" y1="75.3" x2="173.8" y2="57.7" stroke="#5050e8" stroke-width="1.3" opacity="0.42"/>
<line x1="180.0" y1="75.3" x2="180.0" y2="31.7" stroke="#f5a030" stroke-width="1.3" opacity="0.20"/>
<line x1="182.0" y1="75.3" x2="182.0" y2="50.1" stroke="#b08850" stroke-width="1.3" opacity="0.42"/>
<line x1="183.0" y1="75.3" x2="183.0" y2="31.7" stroke="#f5a030" stroke-width="1.3" opacity="0.20"/>
<line x1="196.3" y1="75.3" x2="196.3" y2="62.8" stroke="#f5a030" stroke-width="1.3" opacity="0.20"/>
<line x1="201.4" y1="75.3" x2="201.4" y2="71.0" stroke="#30c030" stroke-width="1.3" opacity="0.20"/>
<line x1="218.8" y1="75.3" x2="218.8" y2="56.7" stroke="#30c030" stroke-width="1.3" opacity="0.42"/>
<line x1="220.4" y1="75.3" x2="220.4" y2="62.8" stroke="#30c030" stroke-width="1.3" opacity="0.20"/>
<line x1="225.3" y1="75.3" x2="225.3" y2="38.3" stroke="#30c030" stroke-width="1.3" opacity="0.20"/>
<line x1="235.2" y1="75.3" x2="235.2" y2="63.8" stroke="#30c030" stroke-width="1.3" opacity="0.42"/>
<line x1="237.2" y1="75.3" x2="237.2" y2="36.2" stroke="#30c030" stroke-width="1.3" opacity="0.20"/>
<line x1="238.2" y1="75.3" x2="238.2" y2="49.5" stroke="#b08850" stroke-width="1.3" opacity="0.20"/>
<line x1="244.3" y1="75.3" x2="244.3" y2="52.6" stroke="#f5a030" stroke-width="1.3" opacity="0.20"/>
<line x1="247.4" y1="75.3" x2="247.4" y2="69.9" stroke="#5050e8" stroke-width="1.3" opacity="0.42"/>
<line x1="254.6" y1="75.3" x2="254.6" y2="57.7" stroke="#f5a030" stroke-width="1.3" opacity="0.20"/>
<line x1="258.7" y1="75.3" x2="258.7" y2="61.8" stroke="#5050e8" stroke-width="1.3" opacity="0.20"/>
<line x1="260.7" y1="75.3" x2="260.7" y2="58.7" stroke="#e04848" stroke-width="1.3" opacity="0.42"/>
<line x1="264.4" y1="75.3" x2="264.4" y2="59.7" stroke="#5050e8" stroke-width="1.3" opacity="0.20"/>
<line x1="266.4" y1="75.3" x2="266.4" y2="45.4" stroke="#e04848" stroke-width="1.3" opacity="0.20"/>
<line x1="269.9" y1="75.3" x2="269.9" y2="32.1" stroke="#f5a030" stroke-width="1.3" opacity="0.20"/>
<line x1="274.0" y1="75.3" x2="274.0" y2="52.6" stroke="#e04848" stroke-width="1.3" opacity="0.42"/>
<line x1="275.0" y1="75.3" x2="275.0" y2="54.6" stroke="#e04848" stroke-width="1.3" opacity="0.42"/>
<line x1="277.0" y1="75.3" x2="277.0" y2="60.7" stroke="#5050e8" stroke-width="1.3" opacity="0.42"/>
<line x1="279.1" y1="75.3" x2="279.1" y2="60.7" stroke="#5050e8" stroke-width="1.3" opacity="0.42"/>
<line x1="282.8" y1="75.3" x2="282.8" y2="63.8" stroke="#5050e8" stroke-width="1.3" opacity="0.20"/>
<line x1="291.4" y1="75.3" x2="291.4" y2="31.7" stroke="#f5a030" stroke-width="1.3" opacity="0.20"/>
<line x1="293.4" y1="75.3" x2="293.4" y2="49.5" stroke="#f5a030" stroke-width="1.3" opacity="0.20"/>
<line x1="302.0" y1="75.3" x2="302.0" y2="43.4" stroke="#30c030" stroke-width="1.3" opacity="0.42"/>
<line x1="312.2" y1="75.3" x2="312.2" y2="61.8" stroke="#f5a030" stroke-width="1.3" opacity="0.20"/>
<line x1="317.5" y1="75.3" x2="317.5" y2="32.1" stroke="#f5a030" stroke-width="1.3" opacity="0.20"/>
<line x1="325.7" y1="75.3" x2="325.7" y2="67.9" stroke="#5050e8" stroke-width="1.3" opacity="0.42"/>
<line x1="331.2" y1="75.3" x2="331.2" y2="62.8" stroke="#30c030" stroke-width="1.3" opacity="0.20"/>
<line x1="332.2" y1="75.3" x2="332.2" y2="65.9" stroke="#5050e8" stroke-width="1.3" opacity="0.42"/>
<line x1="341.4" y1="75.3" x2="341.4" y2="54.6" stroke="#e04848" stroke-width="1.3" opacity="0.20"/>
<line x1="344.1" y1="75.3" x2="344.1" y2="41.3" stroke="#5050e8" stroke-width="1.3" opacity="0.42"/>
<line x1="364.9" y1="75.3" x2="364.9" y2="66.9" stroke="#5050e8" stroke-width="1.3" opacity="0.20"/>
<line x1="369.0" y1="75.3" x2="369.0" y2="45.4" stroke="#e04848" stroke-width="1.3" opacity="0.20"/>
<line x1="370.0" y1="75.3" x2="370.0" y2="65.9" stroke="#30c030" stroke-width="1.3" opacity="0.42"/>
<line x1="380.3" y1="75.3" x2="380.3" y2="38.3" stroke="#f5a030" stroke-width="1.3" opacity="0.20"/>
<line x1="381.9" y1="75.3" x2="381.9" y2="40.3" stroke="#f5a030" stroke-width="1.3" opacity="0.20"/>
<line x1="382.7" y1="75.3" x2="382.7" y2="43.4" stroke="#5050e8" stroke-width="1.3" opacity="0.20"/>
<line x1="383.9" y1="75.3" x2="383.9" y2="63.8" stroke="#e04848" stroke-width="1.3" opacity="0.42"/>
<line x1="395.6" y1="75.3" x2="395.6" y2="63.8" stroke="#5050e8" stroke-width="1.3" opacity="0.20"/>
<line x1="399.7" y1="75.3" x2="399.7" y2="44.4" stroke="#30c030" stroke-width="1.3" opacity="0.42"/>
<line x1="401.7" y1="75.3" x2="401.7" y2="54.6" stroke="#b08850" stroke-width="1.3" opacity="0.20"/>
<line x1="403.8" y1="75.3" x2="403.8" y2="61.8" stroke="#5050e8" stroke-width="1.3" opacity="0.20"/>
<line x1="409.9" y1="75.3" x2="409.9" y2="66.9" stroke="#5050e8" stroke-width="1.3" opacity="0.20"/>
<line x1="415.4" y1="75.3" x2="415.4" y2="62.8" stroke="#f5a030" stroke-width="1.3" opacity="0.20"/>
<line x1="418.1" y1="75.3" x2="418.1" y2="45.4" stroke="#e04848" stroke-width="1.3" opacity="0.42"/>
<line x1="419.5" y1="75.3" x2="419.5" y2="63.8" stroke="#b08850" stroke-width="1.3" opacity="0.42"/>
<line x1="422.8" y1="75.3" x2="422.8" y2="54.6" stroke="#e04848" stroke-width="1.3" opacity="0.20"/>
<line x1="426.2" y1="75.3" x2="426.2" y2="56.7" stroke="#5050e8" stroke-width="1.3" opacity="0.20"/>
<line x1="452.8" y1="75.3" x2="452.8" y2="63.8" stroke="#e04848" stroke-width="1.3" opacity="0.20"/>
<line x1="457.5" y1="75.3" x2="457.5" y2="47.5" stroke="#30c030" stroke-width="1.3" opacity="0.20"/>
<line x1="467.1" y1="75.3" x2="467.1" y2="63.8" stroke="#e04848" stroke-width="1.3" opacity="0.20"/>
<line x1="472.2" y1="75.3" x2="472.2" y2="69.9" stroke="#5050e8" stroke-width="1.3" opacity="0.42"/>
<line x1="473.9" y1="75.3" x2="473.9" y2="42.3" stroke="#30c030" stroke-width="1.3" opacity="0.20"/>
<line x1="477.3" y1="75.3" x2="477.3" y2="51.5" stroke="#5050e8" stroke-width="1.3" opacity="0.20"/>
<line x1="484.5" y1="75.3" x2="484.5" y2="31.7" stroke="#e04848" stroke-width="1.3" opacity="0.20"/>
<line x1="485.5" y1="75.3" x2="485.5" y2="60.7" stroke="#5050e8" stroke-width="1.3" opacity="0.42"/>
<line x1="488.6" y1="75.3" x2="488.6" y2="52.6" stroke="#5050e8" stroke-width="1.3" opacity="0.20"/>
<line x1="491.0" y1="75.3" x2="491.0" y2="50.1" stroke="#5050e8" stroke-width="1.3" opacity="0.42"/>
<line x1="497.2" y1="75.3" x2="497.2" y2="56.7" stroke="#5050e8" stroke-width="1.3" opacity="0.42"/>
<line x1="507.0" y1="75.3" x2="507.0" y2="45.4" stroke="#5050e8" stroke-width="1.3" opacity="0.20"/>
<line x1="508.4" y1="75.3" x2="508.4" y2="45.4" stroke="#5050e8" stroke-width="1.3" opacity="0.20"/>
<line x1="513.1" y1="75.3" x2="513.1" y2="67.9" stroke="#f5a030" stroke-width="1.3" opacity="0.20"/>
<line x1="526.8" y1="75.3" x2="526.8" y2="58.7" stroke="#e04848" stroke-width="1.3" opacity="0.20"/>
<line x1="536.2" y1="75.3" x2="536.2" y2="48.5" stroke="#f5a030" stroke-width="1.3" opacity="0.20"/>
<line x1="543.8" y1="75.3" x2="543.8" y2="32.1" stroke="#f5a030" stroke-width="1.3" opacity="0.20"/>
<line x1="545.8" y1="75.3" x2="545.8" y2="57.7" stroke="#30c030" stroke-width="1.3" opacity="0.20"/>
<line x1="546.8" y1="75.3" x2="546.8" y2="44.4" stroke="#e04848" stroke-width="1.3" opacity="0.42"/>
<line x1="548.9" y1="75.3" x2="548.9" y2="64.8" stroke="#f5a030" stroke-width="1.3" opacity="0.20"/>
<line x1="554.0" y1="75.3" x2="554.0" y2="62.8" stroke="#f5a030" stroke-width="1.3" opacity="0.20"/>
<line x1="566.9" y1="75.3" x2="566.9" y2="48.5" stroke="#5050e8" stroke-width="1.3" opacity="0.20"/>
<line x1="569.7" y1="75.3" x2="569.7" y2="69.9" stroke="#7050d0" stroke-width="1.3" opacity="0.42"/>
<line x1="576.5" y1="75.3" x2="576.5" y2="38.3" stroke="#30c030" stroke-width="1.3" opacity="0.64"/>
<line x1="577.5" y1="75.3" x2="577.5" y2="58.7" stroke="#6a9040" stroke-width="1.3" opacity="0.42"/>
<line x1="579.5" y1="75.3" x2="579.5" y2="58.7" stroke="#a06488" stroke-width="1.3" opacity="0.42"/>
<line x1="581.6" y1="75.3" x2="581.6" y2="64.8" stroke="#5050e8" stroke-width="1.3" opacity="0.20"/>
<line x1="582.6" y1="75.3" x2="582.6" y2="49.5" stroke="#f5a030" stroke-width="1.3" opacity="0.20"/>
<line x1="584.0" y1="75.3" x2="584.0" y2="67.9" stroke="#6a9040" stroke-width="1.3" opacity="0.20"/>
<line x1="590.8" y1="75.3" x2="590.8" y2="67.9" stroke="#f5a030" stroke-width="1.3" opacity="0.20"/>
<line x1="592.8" y1="75.3" x2="592.8" y2="64.8" stroke="#5050e8" stroke-width="1.3" opacity="0.20"/>
<line x1="596.3" y1="75.3" x2="596.3" y2="65.9" stroke="#f5a030" stroke-width="1.3" opacity="0.20"/>
<line x1="598.9" y1="75.3" x2="598.9" y2="48.5" stroke="#5050e8" stroke-width="1.3" opacity="0.42"/>
<line x1="601.4" y1="75.3" x2="601.4" y2="59.7" stroke="#5050e8" stroke-width="1.3" opacity="0.20"/>
<line x1="605.7" y1="75.3" x2="605.7" y2="40.3" stroke="#5050e8" stroke-width="1.3" opacity="0.20"/>
<line x1="607.5" y1="75.3" x2="607.5" y2="63.8" stroke="#f5a030" stroke-width="1.3" opacity="0.20"/>
<line x1="614.7" y1="75.3" x2="614.7" y2="47.5" stroke="#e04848" stroke-width="1.3" opacity="0.42"/>
<line x1="617.3" y1="75.3" x2="617.3" y2="34.2" stroke="#30c030" stroke-width="1.3" opacity="0.20"/>
<line x1="619.4" y1="75.3" x2="619.4" y2="43.4" stroke="#e04848" stroke-width="1.3" opacity="0.20"/>
<line x1="621.4" y1="75.3" x2="621.4" y2="67.9" stroke="#30c030" stroke-width="1.3" opacity="0.20"/>
<line x1="629.6" y1="75.3" x2="629.6" y2="35.2" stroke="#e04848" stroke-width="1.3" opacity="0.20"/>
<line x1="637.8" y1="75.3" x2="637.8" y2="31.7" stroke="#7050d0" stroke-width="1.3" opacity="0.42"/>
<line x1="638.2" y1="75.3" x2="638.2" y2="42.3" stroke="#7050d0" stroke-width="1.3" opacity="0.64"/>
<line x1="53" y1="75.3" x2="674" y2="75.3" stroke="#c8c8c8" stroke-width="1"/>
<rect x="59.5" y="25.8" width="616.5" height="141.5" fill="none" stroke="#000" stroke-width="1.4"/>
<line x1="54" y1="31.599999999999994" x2="59.5" y2="31.599999999999994" stroke="#000" stroke-width="1.2"/>
<line x1="54" y1="53.449999999999996" x2="59.5" y2="53.449999999999996" stroke="#000" stroke-width="1.2"/>
<line x1="54" y1="97.15" x2="59.5" y2="97.15" stroke="#ccc" stroke-width="1.2"/>
<line x1="54" y1="119.0" x2="59.5" y2="119.0" stroke="#000" stroke-width="1.2"/>
<line x1="54" y1="140.85000000000002" x2="59.5" y2="140.85000000000002" stroke="#000" stroke-width="1.2"/>
<line x1="54" y1="162.7" x2="59.5" y2="162.7" stroke="#000" stroke-width="1.2"/>
<text x="46" y="31.599999999999994" font-size="10" font-weight="normal" text-anchor="middle" transform="rotate(-90 46 31.599999999999994)">1.0</text>
<text x="46" y="75.3" font-size="10" font-weight="normal" text-anchor="middle" transform="rotate(-90 46 75.3)">0.0</text>
<text x="46" y="119.0" font-size="10" font-weight="normal" text-anchor="middle" transform="rotate(-90 46 119.0)">-1.0</text>
<text x="46" y="162.7" font-size="10" font-weight="normal" text-anchor="middle" transform="rotate(-90 46 162.7)">-2.0</text>
<line x1="82.0" y1="167.3" x2="82.0" y2="172.3" stroke="#000" stroke-width="1.1"/>
<text x="82.0" y="187.5" font-size="10.6" font-weight="normal" text-anchor="middle">0</text>
<line x1="247.3" y1="167.3" x2="247.3" y2="172.3" stroke="#bbb" stroke-width="1.1"/>
<text x="247.3" y="187.5" font-size="10.6" font-weight="normal" text-anchor="middle">500</text>
<line x1="412.6" y1="167.3" x2="412.6" y2="172.3" stroke="#000" stroke-width="1.1"/>
<text x="412.6" y="187.5" font-size="10.6" font-weight="normal" text-anchor="middle">1000</text>
<line x1="577.9000000000001" y1="167.3" x2="577.9000000000001" y2="172.3" stroke="#eee" stroke-width="1.1"/>
<text x="577.9000000000001" y="187.5" font-size="10.6" font-weight="normal" text-anchor="middle">1500</text>
<text x="316.8" y="209.6" font-size="16.9" font-weight="bold" text-anchor="start">Location (nt)</text>
<text x="20.3" y="92.6" font-size="16.9" font-weight="bold" text-anchor="middle" transform="rotate(-90 20.3 92.6)">Log10 RF index</text>
<rect x="287" y="23" width="10" height="151" rx="1.5" fill="none" stroke="#000" stroke-width="2.2"/>
<line x1="286.5" y1="174" x2="125" y2="245.5" stroke="#000" stroke-width="1.2"/>
<line x1="297.8" y1="173.7" x2="308.3" y2="245.5" stroke="#000" stroke-width="1.2"/>
<line x1="125.5" y1="295.5" x2="308.6" y2="295.5" stroke="#000" stroke-width="1.1"/>
<line x1="127.4" y1="295.5" x2="127.4" y2="344.56" stroke="#0000dd" stroke-width="4" stroke-linecap="round"/>
<line x1="133.5" y1="295.5" x2="133.5" y2="323.152" stroke="#ffa500" stroke-width="4" stroke-linecap="round"/>
<line x1="160.9" y1="295.5" x2="160.9" y2="384.7" stroke="#0000dd" stroke-width="4" stroke-linecap="round"/>
<line x1="168.0" y1="295.5" x2="168.0" y2="330.288" stroke="#ffa500" stroke-width="4" stroke-linecap="round"/>
<line x1="198.2" y1="295.5" x2="198.2" y2="299.96" stroke="#22ee22" stroke-width="4" stroke-linecap="round"/>
<line x1="204.8" y1="295.5" x2="204.8" y2="283.45799999999997" stroke="#dd0000" stroke-width="4" stroke-linecap="round"/>
<line x1="228.9" y1="295.5" x2="228.9" y2="303.082" stroke="#0000dd" stroke-width="4" stroke-linecap="round"/>
<line x1="232.2" y1="295.5" x2="232.2" y2="258.48199999999997" stroke="#22ee22" stroke-width="4" stroke-linecap="round"/>
<line x1="238.9" y1="295.5" x2="238.9" y2="298.176" stroke="#dd0000" stroke-width="4" stroke-linecap="round"/>
<line x1="262.8" y1="295.5" x2="262.8" y2="346.79" stroke="#0000dd" stroke-width="4" stroke-linecap="round"/>
<line x1="269.5" y1="295.5" x2="269.5" y2="342.33" stroke="#ffa500" stroke-width="4" stroke-linecap="round"/>
<line x1="300.1" y1="295.5" x2="300.1" y2="303.082" stroke="#22ee22" stroke-width="4" stroke-linecap="round"/>
<line x1="306.4" y1="295.5" x2="306.4" y2="271.862" stroke="#dd0000" stroke-width="4" stroke-linecap="round"/>
<rect x="125.5" y="246" width="183.10000000000002" height="143" fill="none" stroke="#000" stroke-width="2"/>
<line x1="117.7" y1="250.9" x2="125.5" y2="250.9" stroke="#000" stroke-width="2"/>
<line x1="117.7" y1="273.2" x2="125.5" y2="273.2" stroke="#000" stroke-width="2"/>
<line x1="117.7" y1="295.5" x2="125.5" y2="295.5" stroke="#000" stroke-width="2"/>
<line x1="117.7" y1="317.8" x2="125.5" y2="317.8" stroke="#000" stroke-width="2"/>
<line x1="117.7" y1="340.1" x2="125.5" y2="340.1" stroke="#000" stroke-width="2"/>
<line x1="117.7" y1="362.4" x2="125.5" y2="362.4" stroke="#000" stroke-width="2"/>
<line x1="117.7" y1="384.7" x2="125.5" y2="384.7" stroke="#000" stroke-width="2"/>
<text x="108.6" y="250.9" font-size="12" font-weight="normal" text-anchor="middle" transform="rotate(-90 108.6 250.9)">1.0</text>
<text x="108.6" y="295.5" font-size="12" font-weight="normal" text-anchor="middle" transform="rotate(-90 108.6 295.5)">0.0</text>
<text x="108.6" y="340.1" font-size="12" font-weight="normal" text-anchor="middle" transform="rotate(-90 108.6 340.1)">-1.0</text>
<text x="108.6" y="384.7" font-size="12" font-weight="normal" text-anchor="middle" transform="rotate(-90 108.6 384.7)">-2.0</text>
<line x1="132.4" y1="389" x2="132.4" y2="397" stroke="#000" stroke-width="2"/>
<text x="138.20000000000002" y="403.2" font-size="16" font-weight="normal" text-anchor="end" transform="rotate(-90 138.20000000000002 403.2)">G576</text>
<line x1="166.0" y1="389" x2="166.0" y2="397" stroke="#000" stroke-width="2"/>
<text x="171.8" y="403.2" font-size="16" font-weight="normal" text-anchor="end" transform="rotate(-90 171.8 403.2)">T577</text>
<line x1="199.6" y1="389" x2="199.6" y2="397" stroke="#000" stroke-width="2"/>
<text x="205.4" y="403.2" font-size="16" font-weight="normal" text-anchor="end" transform="rotate(-90 205.4 403.2)">A578</text>
<line x1="233.6" y1="389" x2="233.6" y2="397" stroke="#000" stroke-width="2"/>
<text x="239.4" y="403.2" font-size="16" font-weight="normal" text-anchor="end" transform="rotate(-90 239.4 403.2)">C579</text>
<line x1="267.6" y1="389" x2="267.6" y2="397" stroke="#000" stroke-width="2"/>
<text x="273.40000000000003" y="403.2" font-size="16" font-weight="normal" text-anchor="end" transform="rotate(-90 273.40000000000003 403.2)">T580</text>
<line x1="301.4" y1="389" x2="301.4" y2="397" stroke="#000" stroke-width="2"/>
<text x="307.2" y="403.2" font-size="16" font-weight="normal" text-anchor="end" transform="rotate(-90 307.2 403.2)">A581</text>
<text x="21.2" y="427.8" font-size="16.9" font-weight="bold" text-anchor="start">Nucleotide:</text>
<text x="14.8" y="473.3" font-size="16.8" font-weight="bold" text-anchor="start">Amino Acid:</text>
<line x1="126.5" y1="450.5" x2="204.5" y2="450.5" stroke="#000" stroke-width="1.3"/>
<line x1="230" y1="450.5" x2="306.8" y2="450.5" stroke="#000" stroke-width="1.3"/>
<text x="163.5" y="472.8" font-size="16.5" font-weight="bold" text-anchor="middle">V191</text>
<text x="267.2" y="472.8" font-size="16.7" font-weight="bold" text-anchor="middle">L192</text>
<line x1="27" y1="282" x2="48.5" y2="282" stroke="#0000dd" stroke-width="2.3"/>
<text x="0" y="0" font-size="18.2" font-weight="bold" transform="translate(56.6 287.3) scale(0.76 1)">A</text>
<line x1="27" y1="302" x2="48.5" y2="302" stroke="#22ee22" stroke-width="2.3"/>
<text x="0" y="0" font-size="18.2" font-weight="bold" transform="translate(56.6 307.3) scale(0.76 1)">T</text>
<line x1="27" y1="321" x2="48.5" y2="321" stroke="#ffa500" stroke-width="2.3"/>
<text x="0" y="0" font-size="18.2" font-weight="bold" transform="translate(56.6 326.3) scale(0.76 1)">C</text>
<line x1="27" y1="341" x2="48.5" y2="341" stroke="#dd0000" stroke-width="2.3"/>
<text x="0" y="0" font-size="18.2" font-weight="bold" transform="translate(56.6 346.3) scale(0.76 1)">G</text>
<text x="335.0" y="240.6" font-size="16.8" font-weight="bold" text-anchor="start">(B)</text>
<text x="357.8" y="360.5" font-size="16.4" font-weight="bold" text-anchor="middle" transform="rotate(-90 357.8 360.5)">Frequency</text>
<text x="466" y="540.1" font-size="16.5" font-weight="bold" text-anchor="start">Log10 RF index</text>
<clipPath id="cSilent"><rect x="396.6" y="234.8" width="284.1" height="72.19999999999999"/></clipPath>
<g clip-path="url(#cSilent)">
<rect x="465.40" y="303.69" width="11.69" height="0.51" fill="#8a2be2" stroke="#000" stroke-width="0.75"/>
<rect x="477.09" y="303.69" width="11.69" height="0.51" fill="#8a2be2" stroke="#000" stroke-width="0.75"/>
<rect x="488.78" y="303.69" width="11.69" height="0.51" fill="#8a2be2" stroke="#000" stroke-width="0.75"/>
<rect x="500.47" y="303.69" width="11.69" height="0.51" fill="#8a2be2" stroke="#000" stroke-width="0.75"/>
<rect x="512.16" y="300.91" width="11.69" height="3.29" fill="#8a2be2" stroke="#000" stroke-width="0.75"/>
<rect x="523.85" y="299.39" width="11.69" height="4.81" fill="#8a2be2" stroke="#000" stroke-width="0.75"/>
<rect x="535.54" y="279.91" width="11.69" height="24.29" fill="#8a2be2" stroke="#000" stroke-width="0.75"/>
<rect x="547.23" y="272.32" width="11.69" height="31.88" fill="#8a2be2" stroke="#000" stroke-width="0.75"/>
<rect x="558.92" y="249.05" width="11.69" height="55.15" fill="#8a2be2" stroke="#000" stroke-width="0.75"/>
<rect x="570.61" y="236.90" width="11.69" height="67.30" fill="#8a2be2" stroke="#000" stroke-width="0.75"/>
<rect x="582.30" y="259.17" width="11.69" height="45.03" fill="#8a2be2" stroke="#000" stroke-width="0.75"/>
<rect x="593.99" y="280.92" width="11.69" height="23.28" fill="#8a2be2" stroke="#000" stroke-width="0.75"/>
<rect x="605.68" y="295.60" width="11.69" height="8.60" fill="#8a2be2" stroke="#000" stroke-width="0.75"/>
<rect x="617.37" y="300.91" width="11.69" height="3.29" fill="#8a2be2" stroke="#000" stroke-width="0.75"/>
<rect x="629.06" y="302.68" width="11.69" height="1.52" fill="#8a2be2" stroke="#000" stroke-width="0.75"/>
<rect x="640.75" y="303.19" width="11.69" height="1.01" fill="#8a2be2" stroke="#000" stroke-width="0.75"/>
</g>
<rect x="396.6" y="234.8" width="284.1" height="72.19999999999999" fill="none" stroke="#000" stroke-width="1.4"/>
<line x1="389.4" y1="304.2" x2="396.6" y2="304.2" stroke="#000" stroke-width="1.2"/>
<line x1="389.4" y1="294.08" x2="396.6" y2="294.08" stroke="#000" stroke-width="1.2"/>
<line x1="389.4" y1="283.96" x2="396.6" y2="283.96" stroke="#000" stroke-width="1.2"/>
<line x1="389.4" y1="273.84" x2="396.6" y2="273.84" stroke="#000" stroke-width="1.2"/>
<line x1="389.4" y1="263.71999999999997" x2="396.6" y2="263.71999999999997" stroke="#000" stroke-width="1.2"/>
<line x1="389.4" y1="253.6" x2="396.6" y2="253.6" stroke="#000" stroke-width="1.2"/>
<line x1="389.4" y1="243.48" x2="396.6" y2="243.48" stroke="#000" stroke-width="1.2"/>
<text x="387.4" y="304.2" font-size="7.6" font-weight="normal" text-anchor="middle" transform="rotate(-90 387.4 304.2)" fill="#222">0</text>
<text x="387.4" y="283.96" font-size="7.6" font-weight="normal" text-anchor="middle" transform="rotate(-90 387.4 283.96)" fill="#222">40</text>
<text x="387.4" y="263.71999999999997" font-size="7.6" font-weight="normal" text-anchor="middle" transform="rotate(-90 387.4 263.71999999999997)" fill="#222">80</text>
<text x="387.4" y="243.48" font-size="7.6" font-weight="normal" text-anchor="middle" transform="rotate(-90 387.4 243.48)" fill="#222">120</text>
<line x1="406.94999999999993" y1="307.0" x2="406.94999999999993" y2="312.0" stroke="#000" stroke-width="1.1"/>
<text x="406.94999999999993" y="318.5" font-size="7.8" font-weight="normal" text-anchor="middle" fill="#222">-3</text>
<line x1="465.4" y1="307.0" x2="465.4" y2="312.0" stroke="#000" stroke-width="1.1"/>
<text x="465.4" y="318.5" font-size="7.8" font-weight="normal" text-anchor="middle" fill="#222">-2</text>
<line x1="523.8499999999999" y1="307.0" x2="523.8499999999999" y2="312.0" stroke="#000" stroke-width="1.1"/>
<text x="523.8499999999999" y="318.5" font-size="7.8" font-weight="normal" text-anchor="middle" fill="#222">-1</text>
<line x1="582.3" y1="307.0" x2="582.3" y2="312.0" stroke="#000" stroke-width="1.1"/>
<text x="582.3" y="318.5" font-size="7.8" font-weight="normal" text-anchor="middle" fill="#222">0</text>
<line x1="640.75" y1="307.0" x2="640.75" y2="312.0" stroke="#000" stroke-width="1.1"/>
<text x="640.75" y="318.5" font-size="7.8" font-weight="normal" text-anchor="middle" fill="#222">1</text>
<text x="625.8" y="259" font-size="16.8" font-weight="bold" text-anchor="start">Silent</text>
<clipPath id="cNonsense"><rect x="396.6" y="335.0" width="284.1" height="72.19999999999999"/></clipPath>
<g clip-path="url(#cNonsense)">
<rect x="395.26" y="401.90" width="11.69" height="2.20" fill="#7fffd4" stroke="#000" stroke-width="0.75"/>
<line x1="406.94999999999993" y1="404.1" x2="418.64" y2="404.1" stroke="#000" stroke-width="0.9"/>
<rect x="418.64" y="401.90" width="11.69" height="2.20" fill="#7fffd4" stroke="#000" stroke-width="0.75"/>
<rect x="430.33" y="399.70" width="11.69" height="4.40" fill="#7fffd4" stroke="#000" stroke-width="0.75"/>
<rect x="442.02" y="382.10" width="11.69" height="22.00" fill="#7fffd4" stroke="#000" stroke-width="0.75"/>
<rect x="453.71" y="373.30" width="11.69" height="30.80" fill="#7fffd4" stroke="#000" stroke-width="0.75"/>
<rect x="465.40" y="375.50" width="11.69" height="28.60" fill="#7fffd4" stroke="#000" stroke-width="0.75"/>
<rect x="477.09" y="338.10" width="11.69" height="66.00" fill="#7fffd4" stroke="#000" stroke-width="0.75"/>
<rect x="488.78" y="357.90" width="11.69" height="46.20" fill="#7fffd4" stroke="#000" stroke-width="0.75"/>
<rect x="500.47" y="364.50" width="11.69" height="39.60" fill="#7fffd4" stroke="#000" stroke-width="0.75"/>
<rect x="512.16" y="382.10" width="11.69" height="22.00" fill="#7fffd4" stroke="#000" stroke-width="0.75"/>
<rect x="523.85" y="397.50" width="11.69" height="6.60" fill="#7fffd4" stroke="#000" stroke-width="0.75"/>
<line x1="535.54" y1="404.1" x2="547.2299999999999" y2="404.1" stroke="#000" stroke-width="0.9"/>
<line x1="547.2299999999999" y1="404.1" x2="558.92" y2="404.1" stroke="#000" stroke-width="0.9"/>
<line x1="558.92" y1="404.1" x2="570.6099999999999" y2="404.1" stroke="#000" stroke-width="0.9"/>
<line x1="570.6099999999999" y1="404.1" x2="582.3" y2="404.1" stroke="#000" stroke-width="0.9"/>
<line x1="582.3" y1="404.1" x2="593.99" y2="404.1" stroke="#000" stroke-width="0.9"/>
<rect x="593.99" y="401.90" width="11.69" height="2.20" fill="#7fffd4" stroke="#000" stroke-width="0.75"/>
</g>
<rect x="396.6" y="335.0" width="284.1" height="72.19999999999999" fill="none" stroke="#000" stroke-width="1.4"/>
<line x1="389.4" y1="404.1" x2="396.6" y2="404.1" stroke="#000" stroke-width="1.2"/>
<line x1="389.4" y1="393.1" x2="396.6" y2="393.1" stroke="#000" stroke-width="1.2"/>
<line x1="389.4" y1="382.1" x2="396.6" y2="382.1" stroke="#000" stroke-width="1.2"/>
<line x1="389.4" y1="371.1" x2="396.6" y2="371.1" stroke="#000" stroke-width="1.2"/>
<line x1="389.4" y1="360.1" x2="396.6" y2="360.1" stroke="#000" stroke-width="1.2"/>
<line x1="389.4" y1="349.1" x2="396.6" y2="349.1" stroke="#000" stroke-width="1.2"/>
<line x1="389.4" y1="338.1" x2="396.6" y2="338.1" stroke="#000" stroke-width="1.2"/>
<text x="387.4" y="404.1" font-size="7.6" font-weight="normal" text-anchor="middle" transform="rotate(-90 387.4 404.1)" fill="#222">0</text>
<text x="387.4" y="382.1" font-size="7.6" font-weight="normal" text-anchor="middle" transform="rotate(-90 387.4 382.1)" fill="#222">10</text>
<text x="387.4" y="360.1" font-size="7.6" font-weight="normal" text-anchor="middle" transform="rotate(-90 387.4 360.1)" fill="#222">20</text>
<text x="387.4" y="338.1" font-size="7.6" font-weight="normal" text-anchor="middle" transform="rotate(-90 387.4 338.1)" fill="#222">30</text>
<line x1="406.94999999999993" y1="407.2" x2="406.94999999999993" y2="412.2" stroke="#000" stroke-width="1.1"/>
<text x="406.94999999999993" y="418.7" font-size="7.8" font-weight="normal" text-anchor="middle" fill="#222">-3</text>
<line x1="465.4" y1="407.2" x2="465.4" y2="412.2" stroke="#000" stroke-width="1.1"/>
<text x="465.4" y="418.7" font-size="7.8" font-weight="normal" text-anchor="middle" fill="#222">-2</text>
<line x1="523.8499999999999" y1="407.2" x2="523.8499999999999" y2="412.2" stroke="#000" stroke-width="1.1"/>
<text x="523.8499999999999" y="418.7" font-size="7.8" font-weight="normal" text-anchor="middle" fill="#222">-1</text>
<line x1="582.3" y1="407.2" x2="582.3" y2="412.2" stroke="#000" stroke-width="1.1"/>
<text x="582.3" y="418.7" font-size="7.8" font-weight="normal" text-anchor="middle" fill="#222">0</text>
<line x1="640.75" y1="407.2" x2="640.75" y2="412.2" stroke="#000" stroke-width="1.1"/>
<text x="640.75" y="418.7" font-size="7.8" font-weight="normal" text-anchor="middle" fill="#222">1</text>
<text x="595.0" y="360.1" font-size="16.8" font-weight="bold" text-anchor="start">Nonsense</text>
<clipPath id="cMissense"><rect x="396.6" y="435.2" width="284.1" height="72.30000000000001"/></clipPath>
<g clip-path="url(#cMissense)">
<rect x="406.95" y="505.03" width="11.69" height="0.27" fill="#d2b48c" stroke="#000" stroke-width="0.75"/>
<rect x="418.64" y="502.91" width="11.69" height="2.39" fill="#d2b48c" stroke="#000" stroke-width="0.75"/>
<rect x="430.33" y="499.98" width="11.69" height="5.32" fill="#d2b48c" stroke="#000" stroke-width="0.75"/>
<rect x="442.02" y="496.52" width="11.69" height="8.78" fill="#d2b48c" stroke="#000" stroke-width="0.75"/>
<rect x="453.71" y="486.68" width="11.69" height="18.62" fill="#d2b48c" stroke="#000" stroke-width="0.75"/>
<rect x="465.40" y="473.65" width="11.69" height="31.65" fill="#d2b48c" stroke="#000" stroke-width="0.75"/>
<rect x="477.09" y="465.40" width="11.69" height="39.90" fill="#d2b48c" stroke="#000" stroke-width="0.75"/>
<rect x="488.78" y="448.38" width="11.69" height="56.92" fill="#d2b48c" stroke="#000" stroke-width="0.75"/>
<rect x="500.47" y="438.00" width="11.69" height="67.30" fill="#d2b48c" stroke="#000" stroke-width="0.75"/>
<rect x="512.16" y="445.18" width="11.69" height="60.12" fill="#d2b48c" stroke="#000" stroke-width="0.75"/>
<rect x="523.85" y="451.30" width="11.69" height="54.00" fill="#d2b48c" stroke="#000" stroke-width="0.75"/>
<rect x="535.54" y="451.30" width="11.69" height="54.00" fill="#d2b48c" stroke="#000" stroke-width="0.75"/>
<rect x="547.23" y="459.55" width="11.69" height="45.75" fill="#d2b48c" stroke="#000" stroke-width="0.75"/>
<rect x="558.92" y="460.08" width="11.69" height="45.22" fill="#d2b48c" stroke="#000" stroke-width="0.75"/>
<rect x="570.61" y="467.26" width="11.69" height="38.04" fill="#d2b48c" stroke="#000" stroke-width="0.75"/>
<rect x="582.30" y="471.52" width="11.69" height="33.78" fill="#d2b48c" stroke="#000" stroke-width="0.75"/>
<rect x="593.99" y="490.67" width="11.69" height="14.63" fill="#d2b48c" stroke="#000" stroke-width="0.75"/>
<rect x="605.68" y="497.32" width="11.69" height="7.98" fill="#d2b48c" stroke="#000" stroke-width="0.75"/>
<rect x="617.37" y="499.98" width="11.69" height="5.32" fill="#d2b48c" stroke="#000" stroke-width="0.75"/>
<rect x="629.06" y="503.17" width="11.69" height="2.13" fill="#d2b48c" stroke="#000" stroke-width="0.75"/>
<rect x="640.75" y="504.24" width="11.69" height="1.06" fill="#d2b48c" stroke="#000" stroke-width="0.75"/>
<rect x="652.44" y="504.77" width="11.69" height="0.53" fill="#d2b48c" stroke="#000" stroke-width="0.75"/>
</g>
<rect x="396.6" y="435.2" width="284.1" height="72.30000000000001" fill="none" stroke="#000" stroke-width="1.4"/>
<line x1="389.4" y1="505.3" x2="396.6" y2="505.3" stroke="#000" stroke-width="1.2"/>
<line x1="389.4" y1="492.0" x2="396.6" y2="492.0" stroke="#000" stroke-width="1.2"/>
<line x1="389.4" y1="478.7" x2="396.6" y2="478.7" stroke="#000" stroke-width="1.2"/>
<line x1="389.4" y1="465.4" x2="396.6" y2="465.4" stroke="#000" stroke-width="1.2"/>
<line x1="389.4" y1="452.1" x2="396.6" y2="452.1" stroke="#000" stroke-width="1.2"/>
<line x1="389.4" y1="438.8" x2="396.6" y2="438.8" stroke="#000" stroke-width="1.2"/>
<text x="387.4" y="505.3" font-size="7.6" font-weight="normal" text-anchor="middle" transform="rotate(-90 387.4 505.3)" fill="#222">0</text>
<text x="387.4" y="478.7" font-size="7.6" font-weight="normal" text-anchor="middle" transform="rotate(-90 387.4 478.7)" fill="#222">100</text>
<text x="387.4" y="452.1" font-size="7.6" font-weight="normal" text-anchor="middle" transform="rotate(-90 387.4 452.1)" fill="#222">200</text>
<line x1="406.94999999999993" y1="507.5" x2="406.94999999999993" y2="512.5" stroke="#000" stroke-width="1.1"/>
<text x="406.94999999999993" y="519.0" font-size="7.8" font-weight="normal" text-anchor="middle" fill="#222">-3</text>
<line x1="465.4" y1="507.5" x2="465.4" y2="512.5" stroke="#000" stroke-width="1.1"/>
<text x="465.4" y="519.0" font-size="7.8" font-weight="normal" text-anchor="middle" fill="#222">-2</text>
<line x1="523.8499999999999" y1="507.5" x2="523.8499999999999" y2="512.5" stroke="#000" stroke-width="1.1"/>
<text x="523.8499999999999" y="519.0" font-size="7.8" font-weight="normal" text-anchor="middle" fill="#222">-1</text>
<line x1="582.3" y1="507.5" x2="582.3" y2="512.5" stroke="#000" stroke-width="1.1"/>
<text x="582.3" y="519.0" font-size="7.8" font-weight="normal" text-anchor="middle" fill="#222">0</text>
<line x1="640.75" y1="507.5" x2="640.75" y2="512.5" stroke="#000" stroke-width="1.1"/>
<text x="640.75" y="519.0" font-size="7.8" font-weight="normal" text-anchor="middle" fill="#222">1</text>
<text x="598.8" y="460.9" font-size="16.8" font-weight="bold" text-anchor="start">Missense</text>
</svg></body></html>
